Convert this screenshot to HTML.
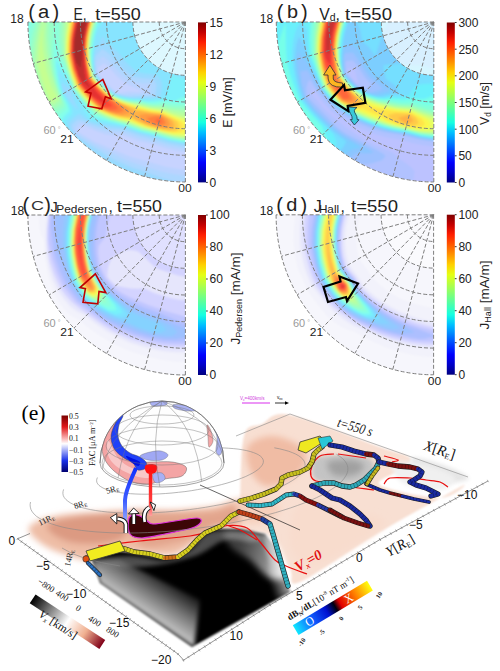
<!DOCTYPE html>
<html><head><meta charset="utf-8"><style>
html,body{margin:0;padding:0;background:#fff;}
body{width:500px;height:671px;overflow:hidden;font-family:"Liberation Sans",sans-serif;}
svg{display:block;}
</style></head><body>
<svg width="500" height="671" viewBox="0 0 500 671"><defs><linearGradient id="jetg" x1="0" y1="1" x2="0" y2="0"><stop offset="0.000" stop-color="#000080"/><stop offset="0.062" stop-color="#0000c8"/><stop offset="0.125" stop-color="#0000ff"/><stop offset="0.188" stop-color="#0040ff"/><stop offset="0.250" stop-color="#0080ff"/><stop offset="0.312" stop-color="#00c0ff"/><stop offset="0.375" stop-color="#16ffe1"/><stop offset="0.438" stop-color="#49ffad"/><stop offset="0.500" stop-color="#7dff7a"/><stop offset="0.562" stop-color="#b1ff46"/><stop offset="0.625" stop-color="#e4ff13"/><stop offset="0.688" stop-color="#ffd000"/><stop offset="0.750" stop-color="#ff9400"/><stop offset="0.812" stop-color="#ff5900"/><stop offset="0.875" stop-color="#ff1e00"/><stop offset="0.938" stop-color="#c40000"/><stop offset="1.000" stop-color="#800000"/></linearGradient><filter id="blur1" x="-5%" y="-5%" width="110%" height="110%"><feGaussianBlur stdDeviation="0.8"/></filter><filter id="bl3" x="-20%" y="-20%" width="140%" height="140%"><feGaussianBlur stdDeviation="3"/></filter><filter id="bl2" x="-20%" y="-20%" width="140%" height="140%"><feGaussianBlur stdDeviation="2"/></filter><filter id="bl6" x="-30%" y="-30%" width="160%" height="160%"><feGaussianBlur stdDeviation="6"/></filter><filter id="bl1" x="-20%" y="-20%" width="140%" height="140%"><feGaussianBlur stdDeviation="1"/></filter><linearGradient id="lftfade" x1="120" y1="602" x2="148" y2="560" gradientUnits="userSpaceOnUse"><stop offset="0" stop-color="#fff" stop-opacity="0.85"/><stop offset="0.5" stop-color="#fff" stop-opacity="0.45"/><stop offset="1" stop-color="#fff" stop-opacity="0"/></linearGradient><linearGradient id="rtfade" x1="268" y1="580" x2="292" y2="572" gradientUnits="userSpaceOnUse"><stop offset="0" stop-color="#fff" stop-opacity="0"/><stop offset="1" stop-color="#fff" stop-opacity="0.95"/></linearGradient><linearGradient id="trg" x1="240" y1="545" x2="290" y2="560" gradientUnits="userSpaceOnUse"><stop offset="0" stop-color="#fff" stop-opacity="0.25"/><stop offset="0.6" stop-color="#fff" stop-opacity="0.55"/><stop offset="1" stop-color="#fff" stop-opacity="0.9"/></linearGradient><linearGradient id="btube" x1="0" y1="468" x2="0" y2="524" gradientUnits="userSpaceOnUse"><stop offset="0" stop-color="#1030ff"/><stop offset="0.6" stop-color="#4060ff"/><stop offset="1" stop-color="#a0b0ff"/></linearGradient><linearGradient id="rtube" x1="0" y1="470" x2="0" y2="518" gradientUnits="userSpaceOnUse"><stop offset="0" stop-color="#ff1010"/><stop offset="0.7" stop-color="#ff4040"/><stop offset="1" stop-color="#ffb0b0"/></linearGradient><linearGradient id="facg" x1="0" y1="0" x2="0" y2="1"><stop offset="0" stop-color="#7a0000"/><stop offset="0.2" stop-color="#e01818"/><stop offset="0.4" stop-color="#f8b0b0"/><stop offset="0.5" stop-color="#ffffff"/><stop offset="0.6" stop-color="#b0b8f8"/><stop offset="0.8" stop-color="#1830e8"/><stop offset="1" stop-color="#000070"/></linearGradient><linearGradient id="vxg" x1="0" y1="0" x2="1" y2="0"><stop offset="0" stop-color="#000"/><stop offset="0.5" stop-color="#fff"/><stop offset="0.75" stop-color="#f0b090"/><stop offset="1" stop-color="#800018"/></linearGradient><linearGradient id="dbg" x1="0" y1="0" x2="1" y2="0"><stop offset="0" stop-color="#10e8ff"/><stop offset="0.22" stop-color="#1060ff"/><stop offset="0.42" stop-color="#0010d0"/><stop offset="0.53" stop-color="#000010"/><stop offset="0.6" stop-color="#e00000"/><stop offset="0.8" stop-color="#ff8000"/><stop offset="1" stop-color="#ffff10"/></linearGradient></defs><clipPath id="clipa"><path d="M0 0 L-157.5 0 A157.5 160.0 0 0 0 0 160.0 Z"/></clipPath>
<g transform="translate(185.4 22.0)">
<g clip-path="url(#clipa)"><g filter="url(#blur1)">
<rect x="-162.5" y="-5" width="167.5" height="170.0" fill="#cbd5ff"/>
<path d="M-160.5 -4.0 4.5 -4.0 4.5 164.0 -161.5 164.0 -161.5 -4.0Z" fill="#d5d5f3"/>
<path d="M-160.5 -4.0 4.5 -4.0 4.5 164.0 -161.5 164.0 -161.5 -4.0Z" fill="#d2d2f9"/>
<path d="M-160.5 -4.0 4.5 -4.0 4.5 164.0 -161.5 164.0 -161.5 -4.0Z" fill="#d0d0ff"/>
<path d="M-160.5 -4.0 4.5 -4.0 4.5 164.0 -161.5 164.0 -161.5 -4.0Z" fill="#ced2ff"/>
<path d="M-160.5 -4.0 4.5 -4.0 4.5 164.0 -161.5 164.0 -161.5 -4.0Z" fill="#c7d3ff"/>
<path d="M-160.5 -4.0 4.5 -4.0 4.5 129.8 -2.5 129.7 -18.5 126.7 -32.5 122.1 -47.5 118.8 -63.5 112.7 -71.5 113.6 -79.5 112.4 -89.5 108.9 -102.5 102.7 -103.4 103.0 -108.4 108.0 -107.5 110.1 -91.5 119.4 -56.5 134.2 -18.9 145.0 -5.5 147.3 4.5 147.8 4.5 164.0 -161.5 164.0 -161.5 -4.0ZM-82.4 42.0 -87.5 45.7 -87.5 51.0 -79.2 61.0 -69.5 69.8 -65.5 71.2 -56.5 69.4 -44.5 70.3 -41.3 70.0 -60.5 61.1 -68.7 54.0 -76.6 45.0 -81.5 41.3Z" fill="#bad3ff"/>
<path d="M-160.5 -4.0 4.5 -4.0 4.5 126.9 -4.5 126.4 -17.5 123.9 -31.5 119.5 -47.5 115.7 -62.5 109.9 -77.5 109.1 -83.5 108.1 -90.5 105.9 -103.5 100.4 -105.5 100.2 -106.5 100.9 -111.2 106.0 -109.5 111.0 -100.5 117.1 -85.5 125.5 -59.5 138.0 -46.5 142.8 -23.5 149.8 -9.5 152.6 -0.5 153.7 4.5 153.7 4.5 164.0 -161.5 164.0 -161.5 -4.0ZM-83.7 35.0 -89.0 40.0 -89.2 44.0 -88.5 52.0 -79.8 62.0 -70.5 70.3 -67.5 71.5 -60.5 73.2 -50.5 72.4 -36.5 72.5 -35.1 72.0 -34.6 63.0 -34.7 62.0 -35.5 61.1 -40.5 61.4 -45.5 61.0 -56.9 58.0 -65.2 51.0 -77.5 37.9 -82.5 34.2 -83.5 34.8Z" fill="#add7ff"/>
<path d="M-160.5 -4.0 4.5 -4.0 4.5 124.2 -4.5 123.7 -17.5 121.2 -30.5 117.1 -46.5 113.2 -61.5 107.6 -74.5 106.6 -86.5 104.6 -93.5 102.3 -104.5 97.5 -108.5 97.7 -113.5 102.6 -114.0 104.0 -112.6 109.0 -110.2 113.0 -96.5 122.4 -71.5 137.5 -53.5 145.5 -39.5 149.9 -22.5 156.3 -0.7 163.0 0.5 164.0 -161.5 164.0 -161.5 -4.0ZM-84.4 28.0 -89.5 33.4 -90.3 35.0 -90.4 43.0 -89.7 52.0 -84.2 59.0 -74.9 68.0 -69.5 71.9 -55.5 75.0 -30.5 73.8 -30.0 73.0 -28.9 63.0 -30.1 60.0 -32.1 57.0 -44.4 56.0 -53.5 54.1 -61.5 47.2 -75.5 32.4 -79.5 29.2 -83.5 27.0Z" fill="#9adaff"/>
<path d="M-160.5 -4.0 4.5 -4.0 4.5 121.8 -2.5 121.6 -17.5 118.7 -28.5 115.0 -46.5 110.7 -60.5 105.4 -76.5 103.7 -90.5 101.1 -96.5 99.0 -104.5 92.6 -106.5 92.1 -110.5 94.5 -116.8 101.0 -115.9 107.0 -112.1 114.0 -101.7 122.0 -93.3 130.0 -84.3 136.0 -63.5 146.6 -41.0 155.0 -43.3 164.0 -161.5 164.0 -161.5 -4.0ZM-82.7 14.0 -87.1 24.0 -90.5 27.8 -91.5 37.0 -90.6 53.0 -83.5 61.4 -71.5 72.0 -63.5 74.4 -51.5 76.4 -33.5 76.1 -25.2 75.0 -23.0 64.0 -24.1 59.0 -26.8 55.0 -29.5 52.7 -41.5 51.5 -47.8 50.0 -49.8 49.0 -59.5 40.3 -68.3 29.0 -79.5 21.1 -82.5 13.5ZM-123.8 61.0 -123.8 63.0 -121.5 71.3 -114.5 80.6 -107.5 87.9 -107.2 87.0 -110.5 81.0 -112.4 76.0 -114.5 66.6 -119.5 64.1 -123.5 60.5Z" fill="#87e4ff"/>
<path d="M-160.5 -4.0 -82.6 -4.0 -82.7 0.0 -88.5 9.3 -90.5 15.6 -92.4 33.0 -92.4 47.0 -91.0 53.0 -89.5 55.3 -81.5 64.3 -71.5 73.0 -61.5 75.7 -50.5 77.3 -35.5 78.0 -23.5 76.6 -21.0 76.0 -19.7 75.0 -15.6 61.0 -15.5 59.0 -14.8 58.0 -14.5 55.0 -13.6 54.0 -13.5 52.0 -12.5 53.0 -9.5 54.0 -8.5 55.0 -6.5 55.0 -5.5 56.0 -2.5 56.0 -1.5 57.0 4.5 57.0 4.5 120.7 -2.5 120.5 -15.5 118.1 -29.5 113.8 -45.5 109.9 -59.5 104.6 -70.5 102.0 -85.5 99.4 -95.5 96.8 -102.4 87.0 -106.6 77.0 -113.7 66.0 -116.5 60.0 -121.5 55.9 -126.5 49.1 -127.0 52.0 -126.4 56.0 -122.7 71.0 -115.3 83.0 -113.1 88.0 -113.5 92.0 -119.4 98.0 -120.0 101.0 -119.3 106.0 -116.4 112.0 -116.8 115.0 -116.4 118.0 -110.5 125.0 -100.5 133.1 -123.9 164.0 -161.5 164.0 -161.5 -4.0ZM-42.5 -1.0 -41.5 -1.0 -40.5 0.0 -41.5 1.0 -42.5 1.0 -43.5 0.0ZM-51.5 0.0 -49.5 0.0 -48.5 1.0 -49.5 2.0 -50.5 1.5 -51.5 2.0 -52.5 1.0ZM-43.5 0.0 -42.5 1.0 -43.5 2.0 -44.5 1.0ZM-44.5 1.0 -43.5 2.0 -44.5 3.0 -45.0 2.0ZM-47.5 2.0 -46.5 3.0 -47.5 4.0 -48.0 3.0ZM-52.5 3.0 -51.5 4.0 -52.5 5.0 -53.5 4.0ZM-42.5 3.0 -41.5 4.0 -42.5 5.0 -43.0 4.0ZM-53.5 4.0 -52.5 5.0 -53.5 6.0 -54.5 5.0ZM-44.5 4.0 -42.5 5.0 -43.5 6.0 -44.5 6.0 -45.5 5.0ZM-49.5 5.0 -49.0 6.0 -49.5 7.0 -50.5 6.0ZM-48.5 8.0 -46.5 10.0 -46.5 11.0 -47.5 12.0 -49.5 12.0 -51.5 10.0 -50.5 9.0 -49.5 10.0 -48.5 10.0 -49.5 9.0ZM-45.5 8.0 -45.0 9.0 -45.5 9.5 -46.5 9.0ZM-55.5 11.0 -54.5 12.0 -55.5 13.0 -56.5 12.0ZM-52.5 11.0 -50.5 13.0 -51.5 14.0 -53.5 12.0ZM-59.5 13.0 -58.5 14.0 -59.5 14.5 -59.5 14.0ZM-60.5 15.0 -59.5 15.5 -59.5 16.0 -60.5 16.0ZM-8.5 37.0 -7.5 38.0 -8.5 39.0 -9.5 38.0ZM-9.5 41.0 -8.5 42.0 -9.5 43.0 -10.5 42.0ZM-7.5 41.0 -6.5 42.0 -7.5 43.0 -8.5 42.0ZM-5.5 41.0 -4.5 42.0 -5.5 43.0 -6.5 42.0ZM-11.5 44.0 -10.5 43.0 -9.5 44.0 -11.5 45.0 -11.5 44.0ZM-8.5 44.0 -7.5 45.0 -8.5 46.0 -9.0 45.0ZM-6.5 45.0 -5.5 46.0 -6.5 47.0 -7.5 46.0ZM-3.5 45.0 -2.5 46.0 -3.5 47.0 -4.5 46.0ZM-9.5 46.5 -8.5 47.0 -9.5 48.0 -10.5 47.0ZM-4.5 46.0 -3.5 47.0 -4.5 48.0 -5.0 47.0ZM-9.5 49.0 -8.5 50.0 -9.5 51.0 -10.5 50.0Z" fill="#7bf1fb"/>
<path d="M-158.5 -4.0 -87.1 -4.0 -87.2 0.0 -89.8 8.0 -91.6 16.0 -93.4 32.0 -93.6 43.0 -91.0 54.0 -82.5 63.9 -73.5 72.1 -67.7 75.0 -62.5 76.4 -53.5 77.9 -44.5 78.5 -37.5 79.9 -28.5 79.4 -20.5 77.9 -11.5 79.2 -9.9 79.0 -7.1 77.0 -3.5 75.5 -0.5 74.7 4.5 74.5 4.5 119.9 -4.5 119.4 -17.5 116.8 -29.5 112.9 -45.5 109.1 -59.5 103.8 -92.5 94.7 -93.5 94.0 -99.7 84.0 -112.5 66.8 -118.5 53.1 -124.3 46.0 -128.5 37.5 -129.3 39.0 -129.2 45.0 -126.6 61.0 -123.4 72.0 -117.5 83.0 -116.0 89.0 -121.8 95.0 -123.1 97.0 -124.2 100.0 -124.0 104.0 -124.5 104.8 -127.5 105.2 -130.5 104.8 -136.5 101.6 -141.5 97.0 -150.5 87.0 -150.5 85.0 -152.5 82.0 -152.5 80.0 -153.5 79.0 -153.5 77.0 -154.5 76.0 -154.5 74.0 -155.5 73.0 -155.5 71.0 -156.5 70.0 -156.5 68.0 -157.5 67.0 -157.5 64.0 -158.5 63.0 -158.5 60.0 -159.5 59.0 -159.5 55.0 -160.5 54.0 -160.5 49.0 -161.5 48.0 -161.5 10.0 -160.5 9.0 -160.5 3.0 -159.5 2.0 -159.5 -4.0Z" fill="#84ffeb"/>
<path d="M-153.5 -4.0 -88.2 -4.0 -88.3 0.0 -90.8 8.0 -92.6 16.0 -94.5 33.0 -94.6 38.0 -93.9 43.0 -91.4 54.0 -83.5 63.3 -74.2 72.0 -71.2 74.0 -63.2 77.0 -55.5 78.5 -45.5 79.3 -34.5 81.4 -29.5 81.4 -21.5 80.1 -8.5 81.8 4.5 81.3 4.5 119.1 -0.5 119.1 -11.5 117.4 -20.5 115.1 -29.5 112.1 -41.5 109.5 -50.5 106.6 -58.5 103.3 -74.5 99.0 -90.5 92.6 -102.5 79.3 -112.3 66.0 -119.5 47.4 -123.7 41.0 -126.6 35.0 -128.5 21.8 -129.5 19.7 -130.7 27.0 -131.2 35.0 -129.9 51.0 -125.8 68.0 -124.0 73.0 -120.1 81.0 -118.6 86.0 -118.8 87.0 -124.2 92.0 -130.5 96.4 -134.5 95.2 -139.5 92.0 -146.0 86.0 -149.0 79.0 -154.6 62.0 -158.5 44.0 -158.8 33.0 -158.2 22.0 -156.8 11.0 -154.3 0.0 -154.3 -4.0Z" fill="#8cffdb"/>
<path d="M-149.5 -4.0 -133.5 -4.0 -133.5 0.0 -130.5 0.0 -130.2 1.0 -132.0 11.0 -133.0 22.0 -133.2 33.0 -132.6 42.0 -131.1 52.0 -128.7 62.0 -125.5 72.0 -121.1 83.0 -121.5 84.4 -126.5 89.0 -128.5 89.7 -132.5 89.9 -135.5 89.1 -142.9 84.0 -149.2 69.0 -154.0 52.0 -155.9 42.0 -155.5 28.1 -153.5 13.9 -149.7 0.0 -149.6 -4.0ZM-125.5 -4.0 -89.2 -4.0 -89.3 0.0 -91.8 8.0 -93.6 16.0 -95.3 30.0 -94.8 39.0 -93.4 48.0 -91.8 54.0 -89.5 57.0 -81.4 66.0 -72.5 73.7 -65.5 76.7 -57.5 79.0 -45.5 80.1 -35.5 82.3 -27.5 82.9 -21.5 82.2 -14.5 83.7 -7.5 84.4 4.5 84.1 4.5 118.3 -0.5 118.3 -11.5 116.6 -20.5 114.3 -29.5 111.3 -42.5 108.3 -58.5 102.5 -75.5 97.8 -90.5 91.1 -101.5 79.4 -111.6 66.0 -116.2 55.0 -120.5 41.3 -124.2 34.0 -126.2 18.0 -126.5 -4.0Z" fill="#98ffc8"/>
<path d="M-146.5 -4.0 -136.4 -4.0 -136.9 15.0 -134.2 43.0 -130.2 61.0 -123.4 80.0 -123.5 81.2 -129.5 86.2 -135.5 85.1 -140.3 82.0 -147.8 63.0 -152.8 44.0 -153.1 37.0 -152.1 25.0 -149.9 12.0 -147.0 0.0 -146.9 -4.0ZM-122.5 -4.0 -90.2 -4.0 -90.3 0.0 -93.5 10.6 -95.5 22.2 -95.8 31.0 -94.9 41.0 -92.2 54.0 -86.6 61.0 -80.5 67.3 -72.5 74.1 -64.5 77.4 -57.5 79.5 -45.9 81.0 -33.5 83.7 -22.5 84.0 -11.5 86.5 -4.5 87.0 4.5 86.8 4.5 117.5 -0.5 117.5 -11.5 115.8 -20.5 113.5 -29.5 110.4 -42.5 107.5 -57.6 102.0 -75.5 96.9 -86.5 92.3 -90.5 89.8 -100.5 79.4 -109.5 68.0 -111.5 64.9 -116.2 53.0 -122.1 32.0 -123.7 14.0 -123.3 -4.0Z" fill="#a5ffb7"/>
<path d="M-143.5 -4.0 -139.1 -4.0 -139.9 14.0 -138.7 29.0 -133.7 53.0 -125.5 78.0 -131.5 83.1 -137.4 81.0 -138.6 79.0 -145.7 60.0 -150.4 41.0 -148.9 22.0 -147.1 11.0 -144.4 0.0 -144.3 -4.0ZM-120.5 -4.0 -91.1 -4.0 -91.2 0.0 -93.5 7.3 -95.8 20.0 -96.2 31.0 -95.3 41.0 -92.5 54.2 -87.5 60.5 -81.4 67.0 -72.5 74.5 -58.5 79.8 -46.5 81.7 -34.5 84.7 -22.5 85.4 -15.5 87.8 -8.5 89.3 -3.5 89.8 4.5 89.6 4.5 116.6 -0.5 116.7 -12.5 114.8 -28.5 109.9 -43.5 106.5 -57.5 101.2 -67.5 98.7 -78.5 94.8 -88.5 90.3 -92.5 86.7 -102.5 76.0 -110.5 65.5 -116.8 49.0 -121.0 32.0 -121.3 15.0 -120.7 -4.0Z" fill="#b6ffa3"/>
<path d="M-117.5 -4.0 -91.7 -4.0 -91.8 0.0 -94.6 10.0 -96.2 21.0 -96.6 30.0 -95.7 41.0 -94.2 49.0 -92.5 54.9 -81.9 67.0 -73.5 74.3 -60.5 79.7 -53.5 81.5 -46.5 82.6 -33.5 86.0 -22.5 86.9 -13.5 90.4 -1.3 94.0 4.5 94.1 4.5 115.6 -2.5 115.5 -12.5 114.0 -28.5 109.3 -43.5 105.7 -57.5 100.4 -68.5 97.6 -79.5 93.5 -87.5 89.8 -93.5 84.5 -102.5 74.9 -110.1 65.0 -113.8 56.0 -117.3 45.0 -120.1 33.0 -120.4 27.0 -120.1 15.0 -118.4 1.0 -118.3 -4.0ZM-142.5 2.8 -142.5 6.8 -142.6 3.0ZM-143.5 6.9 -143.0 7.0 -142.8 8.0 -142.9 20.0 -142.2 29.0 -138.8 49.0 -134.2 64.0 -131.5 69.7 -128.0 75.0 -133.5 80.0 -135.5 79.0 -140.7 66.0 -144.7 53.0 -147.4 40.0 -146.3 23.0 -143.5 7.0Z" fill="#c5ff91"/>
<path d="M-116.5 -4.0 -92.2 -4.0 -92.3 0.0 -95.2 11.0 -96.7 22.0 -96.9 31.0 -96.0 41.0 -92.9 55.0 -82.4 67.0 -73.5 74.7 -61.5 79.8 -36.5 86.2 -22.5 88.3 -12.5 92.4 -0.5 95.9 4.5 95.9 4.5 114.6 -3.5 114.5 -13.5 113.0 -43.7 105.0 -56.5 99.9 -68.5 96.9 -80.5 92.3 -87.5 88.8 -94.5 82.5 -103.3 73.0 -110.0 64.0 -113.8 54.0 -117.1 43.0 -119.3 33.0 -119.6 25.0 -119.2 14.0 -117.2 0.0 -117.1 -4.0Z" fill="#d6ff7c"/>
<path d="M-115.5 -4.0 -92.6 -4.0 -92.7 0.0 -95.6 11.0 -97.1 22.0 -97.3 31.0 -96.4 41.0 -93.3 55.0 -82.5 67.4 -73.5 75.2 -61.5 80.3 -37.5 86.8 -23.5 88.9 -13.5 93.1 -0.5 97.5 4.5 97.6 4.5 113.3 -4.5 113.4 -13.5 112.3 -41.6 105.0 -56.5 99.0 -67.5 96.5 -79.5 92.1 -87.5 88.1 -94.2 82.0 -102.5 73.0 -109.4 64.0 -113.2 54.0 -116.4 43.0 -118.7 32.0 -118.8 25.0 -118.3 14.0 -116.2 0.0 -116.2 -4.0Z" fill="#e7ff68"/>
<path d="M-114.5 -4.0 -93.1 -4.0 -93.2 0.0 -96.0 11.0 -97.5 22.0 -97.7 31.0 -96.8 41.0 -93.7 55.0 -88.1 62.0 -82.4 68.0 -73.5 75.6 -62.5 80.5 -39.5 87.1 -23.5 89.7 -0.5 99.6 4.5 99.8 4.5 111.2 -10.5 112.0 -19.5 110.3 -39.5 105.0 -48.0 102.0 -55.5 98.5 -67.5 95.9 -78.5 92.0 -86.5 88.2 -93.4 82.0 -101.5 73.4 -108.8 64.0 -111.9 56.0 -115.0 46.0 -117.7 33.0 -118.0 27.0 -117.5 15.0 -115.3 0.0 -115.2 -4.0Z" fill="#faf851"/>
<path d="M-113.5 -4.0 -93.5 -4.0 -93.6 0.0 -96.2 10.0 -97.8 21.0 -98.1 30.0 -97.3 40.0 -94.2 55.0 -85.0 66.0 -74.5 75.5 -65.5 79.9 -56.5 83.3 -43.5 87.0 -33.5 89.2 -23.5 90.6 -3.8 100.0 -2.9 101.0 -1.9 105.0 -3.6 110.0 -12.5 110.5 -21.5 109.2 -40.6 104.0 -55.5 97.3 -64.5 96.0 -72.5 93.7 -86.5 87.5 -95.7 79.0 -102.8 71.0 -108.5 63.4 -112.7 52.0 -115.8 40.0 -117.2 32.0 -117.2 22.0 -116.3 11.0 -114.3 0.0 -114.3 -4.0Z" fill="#ffe34d"/>
<path d="M-112.5 -4.0 -94.0 -4.0 -94.1 0.0 -96.6 10.0 -98.0 19.0 -98.5 27.0 -98.0 37.0 -96.7 46.0 -94.6 55.0 -86.5 65.0 -74.6 76.0 -65.5 80.5 -45.5 87.7 -34.7 90.0 -24.5 91.2 -9.0 99.0 -8.0 100.0 -6.5 104.0 -6.5 105.0 -8.5 108.3 -9.5 109.0 -14.5 109.0 -24.5 107.6 -40.5 103.0 -54.5 96.4 -65.5 94.8 -74.5 92.3 -86.3 87.0 -96.9 77.0 -103.0 70.0 -108.1 63.0 -112.1 52.0 -115.2 40.0 -116.6 32.0 -116.6 23.0 -115.8 13.0 -113.4 0.0 -113.4 -4.0Z" fill="#ffcb49"/>
<path d="M-112.5 -4.0 -94.4 -4.0 -94.5 0.0 -96.9 9.0 -98.3 18.0 -98.9 27.0 -98.5 36.0 -97.1 46.0 -95.0 55.0 -88.5 63.5 -82.5 69.7 -75.4 76.0 -66.5 80.7 -52.1 87.0 -50.5 89.3 -45.5 88.9 -34.5 91.1 -24.5 92.1 -13.7 98.0 -11.9 101.0 -10.9 104.0 -13.7 107.0 -16.5 107.6 -21.5 107.1 -36.5 103.3 -49.1 98.0 -50.6 97.0 -53.5 93.7 -56.5 94.9 -61.5 94.5 -70.5 92.7 -78.5 90.1 -85.5 86.9 -98.5 74.4 -107.6 63.0 -112.2 50.0 -115.3 37.0 -116.1 31.0 -115.9 21.0 -114.8 10.0 -112.8 0.0 -112.7 -4.0Z" fill="#ffb145"/>
<path d="M-111.5 -4.0 -94.9 -4.0 -95.0 0.0 -98.4 15.0 -99.4 27.0 -98.2 42.0 -95.0 56.0 -86.5 66.3 -76.2 76.0 -58.9 85.0 -55.8 90.0 -56.5 91.0 -63.5 93.1 -74.5 90.5 -84.5 86.8 -95.5 76.9 -106.9 63.0 -112.2 48.0 -115.6 31.0 -115.1 17.0 -112.1 0.0 -112.1 -4.0ZM-38.5 91.9 -24.5 93.0 -18.0 97.0 -15.4 102.0 -15.5 103.0 -18.5 105.3 -20.5 106.1 -29.5 104.4 -39.8 101.0 -42.5 99.1 -46.8 94.0 -45.5 93.1 -39.3 92.0Z" fill="#ff9a42"/>
<path d="M-110.5 -4.0 -95.4 -4.0 -95.5 0.0 -98.8 15.0 -99.8 27.0 -98.7 42.0 -95.5 56.0 -88.3 65.0 -79.5 73.8 -75.5 77.1 -65.3 83.0 -61.6 89.0 -68.5 91.0 -75.5 89.3 -84.5 85.9 -96.5 74.7 -106.5 62.3 -111.7 48.0 -115.1 31.0 -114.5 17.0 -111.5 0.0 -111.4 -4.0ZM-29.5 94.0 -25.5 93.9 -23.2 95.0 -19.6 101.0 -20.4 102.0 -25.5 104.1 -30.8 103.0 -36.2 99.0 -38.8 96.0 -29.7 94.0Z" fill="#ff7f3e"/>
<path d="M-110.5 -4.0 -95.9 -4.0 -95.9 0.0 -99.3 15.0 -100.3 27.0 -99.2 41.0 -96.0 56.0 -89.8 64.0 -84.5 69.6 -77.5 76.2 -72.0 80.0 -67.6 86.0 -67.8 87.0 -73.5 88.3 -75.5 88.2 -84.1 85.0 -95.5 74.6 -105.9 62.0 -111.5 46.2 -114.6 31.0 -114.0 17.0 -110.9 0.0 -110.8 -4.0ZM-26.5 96.9 -25.5 96.7 -23.8 100.0 -26.5 101.2 -30.7 98.0 -27.0 97.0Z" fill="#ff653a"/>
<path d="M-109.5 -4.0 -96.3 -4.0 -96.4 0.0 -99.7 15.0 -100.7 27.0 -99.7 41.0 -97.1 54.0 -96.1 57.0 -93.1 61.0 -86.4 69.0 -76.6 79.0 -73.1 84.0 -73.5 84.5 -79.5 85.4 -83.5 84.3 -95.5 73.5 -101.5 66.7 -105.6 61.0 -110.8 46.0 -114.0 31.0 -113.5 17.8 -112.5 10.4 -110.2 0.0 -110.1 -4.0Z" fill="#ff4836"/>
<path d="M-108.5 -4.0 -96.8 -4.0 -96.9 0.0 -100.2 15.0 -101.2 27.0 -100.8 36.0 -97.9 57.0 -90.5 67.7 -78.9 81.0 -79.5 81.6 -81.5 81.2 -87.5 77.9 -92.5 74.8 -95.5 72.2 -104.5 61.6 -107.1 55.0 -110.8 43.0 -113.2 31.0 -112.5 16.3 -109.4 0.0 -109.3 -4.0Z" fill="#e53232"/>
<path d="M-107.5 -4.0 -97.3 -4.0 -97.4 0.0 -100.0 10.0 -101.1 17.0 -101.8 27.0 -101.6 43.0 -101.1 50.0 -99.7 58.0 -95.3 65.0 -95.5 65.7 -102.3 60.0 -106.5 54.4 -109.5 44.8 -111.7 35.0 -112.4 30.0 -112.0 20.0 -110.7 10.0 -108.5 0.0 -108.4 -4.0Z" fill="#c32f2f"/>
<path d="M-107.5 -4.0 -98.9 -4.0 -99.0 0.0 -101.2 9.0 -102.6 18.0 -104.5 46.4 -109.5 40.0 -111.6 30.0 -110.8 16.0 -107.6 0.0 -107.6 -4.0Z" fill="#a42b2b"/>
</g>
<path d="M0 0 L-52.5 0 A52.5 53.3 0 0 0 0 53.3 Z" fill="#fff" fill-opacity="0.72"/>
</g>
<path d="M-26.2 0 A26.2 26.7 0 0 0 0 26.7M-52.5 0 A52.5 53.3 0 0 0 0 53.3M-78.8 0 A78.8 80.0 0 0 0 0 80.0M-105.0 0 A105.0 106.7 0 0 0 0 106.7M-131.2 0 A131.2 133.3 0 0 0 0 133.3M-157.5 0 A157.5 160.0 0 0 0 0 160.0M0 0 L-157.5 0.0M0 0 L-152.1 41.4M0 0 L-136.4 80.0M0 0 L-111.4 113.1M0 0 L-78.8 138.6M0 0 L-40.8 154.5M0 0 L-0.0 160.0" fill="none" stroke="#7e7e7e" stroke-width="1" stroke-dasharray="4 2"/>
</g>
<rect x="198.0" y="22.4" width="8.0" height="160.0" fill="url(#jetg)"/>
<line x1="206.0" y1="182.4" x2="207.8" y2="182.4" stroke="#000" stroke-width="0.8"/>
<text x="209.6" y="186.7" font-size="12.0" font-family='"Liberation Sans", sans-serif' fill="#222">0</text>
<line x1="206.0" y1="150.4" x2="207.8" y2="150.4" stroke="#000" stroke-width="0.8"/>
<text x="209.6" y="154.7" font-size="12.0" font-family='"Liberation Sans", sans-serif' fill="#222">3</text>
<line x1="206.0" y1="118.4" x2="207.8" y2="118.4" stroke="#000" stroke-width="0.8"/>
<text x="209.6" y="122.7" font-size="12.0" font-family='"Liberation Sans", sans-serif' fill="#222">6</text>
<line x1="206.0" y1="86.4" x2="207.8" y2="86.4" stroke="#000" stroke-width="0.8"/>
<text x="209.6" y="90.7" font-size="12.0" font-family='"Liberation Sans", sans-serif' fill="#222">9</text>
<line x1="206.0" y1="54.4" x2="207.8" y2="54.4" stroke="#000" stroke-width="0.8"/>
<text x="209.6" y="58.7" font-size="12.0" font-family='"Liberation Sans", sans-serif' fill="#222">12</text>
<line x1="206.0" y1="22.4" x2="207.8" y2="22.4" stroke="#000" stroke-width="0.8"/>
<text x="209.6" y="26.7" font-size="12.0" font-family='"Liberation Sans", sans-serif' fill="#222">15</text>
<text transform="translate(232.3 102.6) rotate(-90)" text-anchor="middle" font-size="12.8" font-family='"Liberation Sans", sans-serif' fill="#222" textLength="50.5" lengthAdjust="spacingAndGlyphs">E [mV/m]</text>
<text x="10.3" y="23.0" font-size="12.0" font-family='"Liberation Sans", sans-serif' fill="#222" textLength="13.4" lengthAdjust="spacingAndGlyphs">18</text><text x="43.4" y="134.3" font-size="10.0" font-family='"Liberation Sans", sans-serif' fill="#999" textLength="12.2" lengthAdjust="spacingAndGlyphs">60</text><text x="57.8" y="131.5" font-size="7.0" font-family='"Liberation Sans", sans-serif' fill="#aaa">&#176;</text><text x="60.3" y="142.6" font-size="11.5" font-family='"Liberation Sans", sans-serif' fill="#222" textLength="13.4" lengthAdjust="spacingAndGlyphs">21</text><text x="178.3" y="192.2" font-size="11.5" font-family='"Liberation Sans", sans-serif' fill="#222" textLength="13.4" lengthAdjust="spacingAndGlyphs">00</text>
<text x="32.2" y="18.6" font-size="19.5" font-family='"Liberation Mono", monospace' fill="#222" text-anchor="middle">(</text>
<text x="37.6" y="18.2" font-size="17.5" font-family='"Liberation Mono", monospace' fill="#222" textLength="12.5" lengthAdjust="spacingAndGlyphs">a</text>
<text x="55.4" y="18.6" font-size="19.5" font-family='"Liberation Mono", monospace' fill="#222" text-anchor="middle">)</text>
<text x="73.6" y="19.5" font-size="15.8" font-family='"Liberation Sans", sans-serif' fill="#222" textLength="13.1" lengthAdjust="spacingAndGlyphs">E,</text>
<text x="95.3" y="19.5" font-size="15.8" font-family='"Liberation Sans", sans-serif' fill="#222" textLength="45.4" lengthAdjust="spacingAndGlyphs">t=550</text>
<path d="M102.8 79.4 L111.2 98.8 L105.4 96.8 L101.8 108.8 L88.0 106.2 L91.0 93.2 L85.6 91.8 Z" fill="none" stroke="#c00000" stroke-width="1.6" stroke-linejoin="miter"/>
<clipPath id="clipb"><path d="M0 0 L-157.5 0 A157.5 160.0 0 0 0 0 160.0 Z"/></clipPath>
<g transform="translate(433.8 22.0)">
<g clip-path="url(#clipb)"><g filter="url(#blur1)">
<rect x="-162.5" y="-5" width="167.5" height="170.0" fill="#bcc2ff"/>
<path d="M-160.5 -4.0 4.5 -4.0 4.5 164.0 -161.5 164.0 -161.5 -4.0Z" fill="#d2d2f2"/>
<path d="M-160.5 -4.0 4.5 -4.0 4.5 164.0 -161.5 164.0 -161.5 -4.0Z" fill="#cecef9"/>
<path d="M-160.5 -4.0 4.5 -4.0 4.5 164.0 -161.5 164.0 -161.5 -4.0Z" fill="#c7c7ff"/>
<path d="M-160.5 -4.0 4.5 -4.0 4.5 164.0 -161.5 164.0 -161.5 -4.0Z" fill="#bcc2ff"/>
<path d="M-160.5 -4.0 4.5 -4.0 4.5 124.4 -1.5 124.4 -11.5 123.1 -21.5 120.9 -31.5 117.9 -46.5 115.5 -57.5 112.4 -74.5 106.0 -88.5 98.7 -102.5 89.0 -111.5 79.5 -121.5 66.2 -122.0 68.0 -122.1 72.0 -111.4 85.0 -105.5 91.1 -87.5 106.1 -67.7 119.0 -41.5 130.4 -38.0 133.0 -35.5 136.2 -28.1 141.0 -21.9 146.0 -19.3 149.0 -21.3 164.0 -161.5 164.0 -161.5 -4.0ZM-86.6 47.0 -86.3 51.0 -79.5 59.0 -75.1 63.0 -79.2 47.0 -80.5 46.4 -86.5 46.6Z" fill="#b1c2ff"/>
<path d="M-160.5 -4.0 4.5 -4.0 4.5 119.4 0.5 119.6 -8.5 118.6 -18.5 116.6 -28.5 113.7 -29.5 113.0 -34.5 112.8 -49.5 110.3 -63.9 106.0 -76.0 101.0 -90.5 92.8 -103.5 83.0 -112.5 73.6 -119.2 65.0 -123.5 58.2 -124.5 57.7 -126.2 61.0 -127.2 65.0 -127.3 71.0 -126.5 74.6 -97.8 104.0 -92.5 108.5 -87.5 111.8 -56.8 128.0 -50.3 132.0 -48.1 134.0 -50.5 136.9 -52.5 138.4 -62.5 141.6 -69.5 142.4 -78.5 141.7 -80.5 142.0 -84.7 150.0 -87.5 154.0 -88.7 157.0 -91.5 161.0 -92.7 164.0 -161.5 164.0 -161.5 -4.0ZM-86.9 39.0 -88.3 40.0 -87.7 51.0 -78.0 62.0 -75.5 64.3 -69.5 67.1 -68.2 67.0 -62.3 63.0 -69.2 55.0 -76.3 44.0 -80.5 38.7 -81.5 38.4 -86.5 38.9Z" fill="#9ec1ff"/>
<path d="M-160.5 -4.0 4.5 -4.0 4.5 118.2 -0.5 118.3 -10.5 117.0 -19.5 115.1 -29.5 112.1 -46.5 109.1 -64.5 103.4 -76.5 98.2 -88.5 91.5 -99.9 83.0 -116.5 64.4 -126.5 48.3 -133.5 49.5 -132.0 61.0 -128.3 75.0 -119.5 86.0 -104.5 100.9 -92.5 111.0 -82.5 117.3 -70.0 124.0 -60.6 130.0 -61.5 130.9 -63.5 131.3 -68.5 131.4 -74.5 130.7 -78.9 132.0 -87.2 139.0 -102.8 164.0 -161.5 164.0 -161.5 -4.0ZM-85.6 31.0 -88.5 31.6 -89.5 33.0 -89.6 44.0 -88.8 52.0 -84.4 57.0 -76.2 65.0 -64.5 70.3 -62.5 70.7 -52.5 67.8 -51.5 67.1 -53.5 64.3 -64.6 55.0 -69.6 48.0 -76.5 36.4 -79.5 32.6 -81.5 30.6 -85.5 31.0Z" fill="#8bc5ff"/>
<path d="M-160.5 -4.0 4.5 -4.0 4.5 117.4 -1.5 117.3 -12.5 115.8 -29.5 111.3 -39.5 109.8 -49.5 107.4 -70.5 100.0 -80.5 95.1 -88.5 90.5 -98.5 83.4 -108.7 72.0 -113.1 66.0 -114.5 62.9 -121.1 53.0 -127.5 39.2 -131.5 36.0 -135.5 29.4 -136.7 37.0 -135.7 50.0 -133.4 63.0 -129.5 76.1 -118.5 89.5 -101.5 106.1 -92.5 113.4 -73.7 125.0 -73.5 125.8 -72.4 126.0 -77.5 126.3 -82.5 127.8 -93.5 135.8 -113.0 164.0 -161.5 164.0 -161.5 -4.0ZM-84.5 23.0 -89.5 24.1 -90.4 29.0 -90.9 38.0 -90.6 47.0 -90.3 51.0 -88.5 54.4 -76.5 65.9 -63.5 71.6 -57.5 73.0 -52.5 71.3 -44.5 69.6 -44.1 69.0 -45.1 67.0 -48.3 63.0 -60.5 53.6 -63.0 51.0 -67.7 44.0 -73.5 31.8 -76.5 26.9 -80.5 23.3 -82.5 22.2 -83.5 22.4Z" fill="#7cceff"/>
<path d="M-160.5 -4.0 -85.6 -4.0 -85.7 0.0 -89.8 15.0 -91.8 31.0 -92.2 42.0 -90.5 52.3 -85.5 59.0 -78.0 66.0 -70.5 69.8 -61.5 73.2 -56.5 74.3 -53.5 74.4 -41.5 71.9 -35.0 72.0 -36.2 68.0 -38.5 64.0 -40.6 62.0 -47.8 57.0 -50.5 45.0 -50.5 43.7 -49.6 43.0 -34.5 41.7 -19.5 43.5 -11.5 43.3 -1.5 46.9 4.5 47.0 4.5 116.5 -1.5 116.5 -12.5 115.0 -29.5 110.5 -40.5 108.8 -51.5 106.0 -65.5 101.1 -74.5 97.2 -85.5 91.5 -95.5 85.0 -98.0 83.0 -103.5 77.2 -112.3 66.0 -116.5 56.0 -121.3 48.0 -124.9 40.0 -126.7 35.0 -128.5 24.5 -134.5 14.7 -136.1 18.0 -137.7 24.0 -139.2 38.0 -138.2 48.0 -136.4 58.0 -133.8 68.0 -130.8 77.0 -121.5 88.7 -109.7 101.0 -100.5 109.5 -88.2 119.0 -87.7 120.0 -91.0 126.0 -100.5 133.0 -123.9 164.0 -161.5 164.0 -161.5 -4.0ZM-76.5 -4.0 -45.5 -4.0 -45.7 0.0 -50.2 9.0 -58.5 34.0 -65.0 25.0 -71.5 19.2 -73.6 8.0 -77.1 0.0 -77.0 -4.0Z" fill="#74dfff"/>
<path d="M-160.5 -4.0 -87.0 -4.0 -87.1 0.0 -89.6 8.0 -91.3 16.0 -93.2 33.0 -92.7 43.0 -90.7 53.0 -85.5 59.5 -78.5 66.6 -67.5 72.0 -58.5 74.9 -50.5 76.0 -42.5 74.2 -34.5 74.8 -27.5 74.3 -25.4 74.0 -24.5 73.3 -20.5 66.5 -16.5 63.3 -9.5 62.1 4.5 61.4 4.5 115.6 -2.5 115.5 -12.5 114.1 -28.5 109.9 -40.5 108.0 -51.7 105.0 -65.5 100.2 -74.5 96.3 -86.5 90.1 -97.1 83.0 -106.5 72.7 -112.5 64.0 -117.5 50.7 -122.2 41.0 -124.9 34.0 -126.0 23.0 -126.5 7.8 -129.8 3.0 -132.5 0.2 -135.9 4.0 -138.6 10.0 -140.5 18.0 -141.6 28.0 -141.8 38.0 -141.2 43.0 -139.3 54.0 -136.5 65.0 -132.0 78.0 -119.9 93.0 -100.7 112.0 -97.5 119.0 -97.3 123.0 -106.6 129.0 -135.5 164.0 -161.5 164.0 -161.5 -4.0Z" fill="#6bf0fb"/>
<path d="M-122.5 -4.0 -88.3 -4.0 -88.4 0.0 -91.6 11.0 -93.5 23.0 -93.9 36.0 -92.8 45.0 -90.5 53.9 -81.5 64.4 -78.5 67.3 -75.5 69.1 -69.8 72.0 -61.5 75.0 -55.5 76.5 -49.5 77.1 -43.5 76.5 -30.5 77.6 -20.5 76.2 -11.5 77.3 -9.3 77.0 -0.5 73.8 4.5 73.5 4.5 114.8 -2.5 114.7 -14.5 112.9 -28.5 109.0 -40.5 107.1 -51.5 104.2 -65.5 99.3 -74.5 95.3 -87.5 88.6 -97.2 82.0 -104.6 74.0 -111.4 65.0 -115.3 55.0 -119.5 42.0 -122.9 34.0 -124.1 17.0 -123.2 -4.0ZM-148.5 1.0 -148.1 3.0 -147.9 26.0 -146.8 40.0 -144.2 51.0 -140.6 62.0 -134.2 78.0 -125.7 89.0 -112.1 104.0 -106.5 117.0 -107.4 118.0 -119.1 121.0 -161.5 164.0 -161.5 44.0 -160.5 43.7 -159.5 41.5 -157.8 31.0 -155.4 21.0 -148.9 2.0Z" fill="#76ffe9"/>
<path d="M-120.5 -4.0 -89.6 -4.0 -89.6 0.0 -91.6 6.0 -93.5 15.2 -94.5 24.9 -94.5 32.7 -93.6 42.0 -90.9 54.0 -85.5 60.7 -79.5 66.9 -68.5 73.3 -62.5 75.6 -55.5 77.5 -44.5 78.3 -36.5 80.0 -30.5 80.6 -21.5 80.0 -7.5 83.0 4.5 83.1 4.5 114.0 -2.5 113.9 -13.5 112.4 -28.5 108.3 -39.5 106.6 -50.5 103.7 -65.5 98.4 -72.5 95.4 -86.5 88.4 -96.5 81.9 -103.8 74.0 -110.7 65.0 -117.4 46.0 -121.1 33.0 -121.7 27.0 -122.0 14.0 -121.0 -4.0ZM-139.5 83.6 -130.5 93.0 -120.5 102.0 -118.1 108.0 -117.9 109.0 -118.5 109.6 -130.5 110.8 -136.0 97.0 -140.1 84.0Z" fill="#83ffd9"/>
<path d="M-118.5 -4.0 -90.1 -4.0 -90.2 0.0 -93.0 10.0 -94.7 22.0 -94.9 32.0 -94.0 42.0 -91.3 54.0 -85.7 61.0 -80.0 67.0 -69.5 73.4 -57.5 78.1 -33.5 81.9 -21.5 82.7 -6.5 87.2 -0.5 88.3 4.5 88.3 4.5 113.2 -3.5 113.1 -13.5 111.7 -28.5 107.7 -38.5 106.2 -49.5 103.3 -64.5 98.1 -73.5 94.2 -86.5 87.7 -96.5 81.0 -103.5 73.3 -110.0 65.0 -113.9 55.0 -117.2 44.0 -119.7 33.0 -120.1 28.0 -119.9 12.0 -118.7 -4.0Z" fill="#93ffc6"/>
<path d="M-116.5 -3.6 -116.5 -4.0 -90.6 -4.0 -90.7 0.0 -93.6 11.0 -95.2 22.0 -95.4 31.0 -94.5 41.0 -91.7 54.0 -86.5 60.6 -80.5 67.0 -75.5 70.6 -68.5 74.5 -55.5 79.5 -35.5 83.1 -22.5 83.9 -5.5 89.5 -0.5 90.7 4.5 90.7 4.5 112.5 -3.5 112.4 -13.5 111.2 -28.5 107.3 -38.5 105.7 -48.7 103.0 -71.5 94.4 -84.5 88.1 -95.6 81.0 -102.1 74.0 -109.8 64.0 -113.5 54.0 -116.6 43.0 -118.8 33.0 -119.1 25.0 -118.7 14.0 -116.5 -3.0Z" fill="#a2ffb4"/>
<path d="M-115.5 -4.0 -91.0 -4.0 -91.1 0.0 -94.1 11.0 -95.6 22.0 -95.8 31.0 -94.9 41.0 -92.1 54.0 -86.5 61.2 -80.5 67.6 -68.5 75.1 -56.5 79.9 -39.0 84.0 -31.5 84.9 -22.5 85.2 -7.3 91.0 -0.5 92.7 4.5 92.7 4.5 111.8 -3.5 111.8 -13.5 110.6 -47.5 102.8 -65.5 96.4 -79.5 90.1 -88.5 85.3 -95.5 80.5 -103.1 72.0 -109.2 64.0 -113.1 53.0 -116.1 42.0 -118.1 32.0 -118.3 24.0 -117.7 14.0 -115.6 0.0 -115.5 -4.0Z" fill="#b3ffa0"/>
<path d="M-114.5 -4.0 -91.5 -4.0 -91.6 0.0 -94.5 11.0 -96.0 22.0 -96.2 31.0 -95.1 42.0 -92.5 54.0 -87.2 61.0 -80.6 68.0 -67.5 76.3 -56.5 80.7 -37.5 85.2 -22.5 86.6 -13.5 90.3 -3.5 93.4 0.5 94.4 4.5 94.3 4.5 111.1 -4.5 111.0 -13.5 110.0 -46.5 102.5 -64.7 96.0 -79.5 89.5 -88.5 84.7 -95.4 80.0 -102.5 72.0 -108.5 64.0 -112.1 54.0 -115.3 42.0 -117.3 32.0 -117.4 24.0 -116.9 14.0 -114.7 0.0 -114.6 -4.0Z" fill="#c3ff8d"/>
<path d="M-113.5 -4.0 -91.9 -4.0 -92.0 0.0 -94.9 11.0 -96.5 22.0 -96.6 31.0 -95.7 41.0 -92.9 54.0 -87.7 61.0 -81.2 68.0 -75.5 72.2 -66.5 77.7 -57.5 81.2 -38.5 85.9 -23.5 87.4 -0.5 96.1 4.5 96.2 4.5 109.5 -8.5 110.0 -14.5 109.3 -45.5 102.2 -65.5 95.0 -80.5 88.4 -88.5 84.2 -94.8 80.0 -101.9 72.0 -107.9 64.0 -110.6 57.0 -114.0 45.0 -116.4 32.0 -116.6 25.0 -116.0 14.0 -113.7 0.0 -113.6 -4.0Z" fill="#d5ff78"/>
<path d="M-112.5 -4.0 -92.4 -4.0 -92.5 0.0 -95.4 11.0 -96.9 22.0 -97.0 31.0 -96.1 41.0 -92.9 55.0 -88.3 61.0 -81.5 68.3 -66.5 78.8 -61.5 81.0 -40.5 86.5 -31.5 87.8 -23.5 88.3 0.5 98.7 4.5 98.7 4.5 107.6 -6.5 108.6 -14.5 108.4 -18.5 108.0 -27.5 105.6 -40.8 103.0 -64.5 94.1 -74.5 89.6 -81.5 87.4 -94.2 80.0 -101.3 72.0 -108.0 63.0 -111.0 54.0 -113.6 44.0 -115.6 32.0 -115.8 26.0 -115.2 15.0 -112.8 0.0 -112.7 -4.0Z" fill="#e6ff63"/>
<path d="M-111.5 -4.0 -92.8 -4.0 -92.9 0.0 -95.6 10.0 -97.2 21.0 -97.5 29.0 -96.8 39.0 -93.5 55.0 -84.4 66.0 -78.5 71.4 -66.5 80.3 -64.5 81.2 -55.5 84.3 -43.5 87.1 -33.5 88.6 -23.5 89.2 -7.6 97.0 -6.0 98.0 -3.0 103.0 -6.5 106.8 -11.5 107.2 -20.5 106.5 -40.4 102.0 -63.9 93.0 -73.5 88.7 -83.0 86.0 -89.5 82.6 -94.5 79.0 -101.5 71.0 -107.4 63.0 -110.8 53.0 -113.3 43.0 -115.0 32.0 -115.1 23.0 -114.0 11.0 -111.9 0.0 -111.9 -4.0Z" fill="#faf84d"/>
<path d="M-110.5 -4.0 -93.3 -4.0 -93.4 0.0 -96.0 10.0 -97.7 21.0 -98.0 29.0 -97.2 39.0 -94.0 55.0 -84.5 66.7 -81.5 69.7 -69.8 79.0 -68.8 80.0 -67.7 83.0 -60.5 85.5 -54.5 86.8 -36.5 89.6 -23.5 90.4 -12.1 97.0 -8.9 102.0 -9.5 102.7 -13.5 105.6 -16.5 105.7 -24.5 104.7 -36.5 102.0 -47.8 98.0 -53.5 93.4 -62.5 90.4 -70.5 86.8 -75.5 87.2 -83.5 84.9 -89.5 82.1 -94.0 79.0 -101.0 71.0 -106.9 63.0 -110.0 54.0 -112.8 43.0 -114.5 32.0 -114.6 24.0 -113.7 13.0 -111.3 0.0 -111.2 -4.0Z" fill="#ffe34a"/>
<path d="M-110.5 -4.0 -93.7 -4.0 -93.8 0.0 -97.4 15.0 -98.4 26.0 -97.7 39.0 -95.3 52.0 -94.0 56.0 -87.5 64.2 -82.0 70.0 -72.5 78.0 -71.5 83.0 -72.2 84.0 -78.5 85.3 -90.5 80.9 -93.3 79.0 -98.5 73.3 -106.8 62.0 -111.4 47.0 -114.1 31.0 -113.6 17.0 -110.7 0.0 -110.6 -4.0ZM-36.5 91.0 -23.5 91.9 -18.4 95.0 -14.8 101.0 -20.5 104.1 -30.5 102.4 -38.5 100.0 -45.9 94.0 -45.9 93.0 -37.5 91.0Z" fill="#ffca47"/>
<path d="M-109.5 -4.0 -94.2 -4.0 -94.3 0.0 -97.8 15.0 -98.9 26.0 -98.4 37.0 -96.5 49.0 -95.0 55.0 -92.5 58.8 -84.7 68.0 -76.2 76.0 -74.8 81.0 -74.8 82.0 -75.5 82.3 -80.5 83.5 -82.5 83.2 -92.5 78.9 -101.0 69.0 -106.5 60.8 -110.9 47.0 -113.6 31.0 -113.1 17.0 -110.1 0.0 -110.0 -4.0ZM-24.5 92.9 -20.3 99.0 -26.5 101.9 -29.5 100.5 -36.0 96.0 -25.5 93.0Z" fill="#ffb144"/>
<path d="M-108.5 -4.0 -94.6 -4.0 -94.7 0.0 -98.2 15.0 -99.3 26.0 -98.6 39.0 -96.8 50.0 -95.2 56.0 -93.9 58.0 -87.2 66.0 -79.5 74.0 -78.0 79.0 -77.9 80.0 -78.5 80.4 -84.5 81.3 -92.2 78.0 -98.2 71.0 -104.1 63.0 -107.5 55.4 -111.5 41.6 -113.1 31.0 -112.5 17.0 -109.5 0.0 -109.5 -4.0Z" fill="#ff9a41"/>
<path d="M-108.5 -4.0 -95.1 -4.0 -95.2 0.0 -98.2 12.0 -99.6 24.0 -99.6 33.0 -98.1 47.0 -96.2 57.0 -89.4 65.0 -83.4 71.0 -81.2 77.0 -81.0 78.0 -81.5 78.4 -87.5 79.2 -91.5 77.4 -97.8 70.0 -103.5 62.0 -108.0 51.0 -111.0 40.0 -112.6 30.0 -111.7 14.0 -108.9 0.0 -108.9 -4.0Z" fill="#ff7f3e"/>
<path d="M-107.5 -4.0 -95.6 -4.0 -95.7 0.0 -98.9 13.0 -100.1 23.0 -100.2 35.0 -98.6 57.0 -98.4 58.0 -94.3 63.0 -85.5 72.1 -84.2 75.0 -84.5 76.3 -90.5 77.0 -91.3 76.0 -96.8 68.0 -101.5 59.9 -105.5 55.0 -108.2 47.0 -110.8 36.0 -111.7 28.0 -111.0 15.0 -108.2 0.0 -108.2 -4.0Z" fill="#ff663b"/>
<path d="M-106.5 -4.0 -96.3 -4.0 -96.5 1.0 -99.3 11.0 -100.9 23.0 -101.6 36.0 -101.5 52.9 -107.5 45.5 -109.5 37.9 -110.8 30.0 -110.2 16.0 -107.3 0.0 -107.3 -4.0Z" fill="#ff4a38"/>
<path d="M-105.5 -4.0 -97.6 -4.0 -97.7 0.0 -100.2 9.0 -102.0 19.0 -103.5 43.2 -108.5 36.0 -109.9 30.0 -109.5 17.5 -108.2 8.0 -106.4 0.0 -106.4 -4.0Z" fill="#e63535"/>
<path d="M-104.5 -4.0 -99.1 -4.0 -99.2 0.0 -102.9 15.0 -104.5 31.6 -105.5 32.2 -107.3 29.0 -107.6 20.0 -107.1 11.0 -105.6 2.0 -105.3 -4.0Z" fill="#c43232"/>
</g>
<path d="M0 0 L-52.5 0 A52.5 53.3 0 0 0 0 53.3 Z" fill="#fff" fill-opacity="0.70"/>
</g>
<path d="M-26.2 0 A26.2 26.7 0 0 0 0 26.7M-52.5 0 A52.5 53.3 0 0 0 0 53.3M-78.8 0 A78.8 80.0 0 0 0 0 80.0M-105.0 0 A105.0 106.7 0 0 0 0 106.7M-131.2 0 A131.2 133.3 0 0 0 0 133.3M-157.5 0 A157.5 160.0 0 0 0 0 160.0M0 0 L-157.5 0.0M0 0 L-152.1 41.4M0 0 L-136.4 80.0M0 0 L-111.4 113.1M0 0 L-78.8 138.6M0 0 L-40.8 154.5M0 0 L-0.0 160.0" fill="none" stroke="#7e7e7e" stroke-width="1" stroke-dasharray="4 2"/>
</g>
<rect x="446.8" y="22.5" width="8.0" height="160.0" fill="url(#jetg)"/>
<line x1="454.8" y1="182.5" x2="456.6" y2="182.5" stroke="#000" stroke-width="0.8"/>
<text x="458.4" y="186.8" font-size="12.0" font-family='"Liberation Sans", sans-serif' fill="#222">0</text>
<line x1="454.8" y1="155.8" x2="456.6" y2="155.8" stroke="#000" stroke-width="0.8"/>
<text x="458.4" y="160.1" font-size="12.0" font-family='"Liberation Sans", sans-serif' fill="#222">50</text>
<line x1="454.8" y1="129.2" x2="456.6" y2="129.2" stroke="#000" stroke-width="0.8"/>
<text x="458.4" y="133.5" font-size="12.0" font-family='"Liberation Sans", sans-serif' fill="#222">100</text>
<line x1="454.8" y1="102.5" x2="456.6" y2="102.5" stroke="#000" stroke-width="0.8"/>
<text x="458.4" y="106.8" font-size="12.0" font-family='"Liberation Sans", sans-serif' fill="#222">150</text>
<line x1="454.8" y1="75.8" x2="456.6" y2="75.8" stroke="#000" stroke-width="0.8"/>
<text x="458.4" y="80.1" font-size="12.0" font-family='"Liberation Sans", sans-serif' fill="#222">200</text>
<line x1="454.8" y1="49.2" x2="456.6" y2="49.2" stroke="#000" stroke-width="0.8"/>
<text x="458.4" y="53.5" font-size="12.0" font-family='"Liberation Sans", sans-serif' fill="#222">250</text>
<line x1="454.8" y1="22.5" x2="456.6" y2="22.5" stroke="#000" stroke-width="0.8"/>
<text x="458.4" y="26.8" font-size="12.0" font-family='"Liberation Sans", sans-serif' fill="#222">300</text>
<text transform="translate(488.8 103.5) rotate(-90)" text-anchor="middle" font-size="13.2" font-family='"Liberation Sans", sans-serif' fill="#222" textLength="43" lengthAdjust="spacingAndGlyphs">V<tspan font-size="9" dy="2">d</tspan><tspan dy="-2"> [m/s]</tspan></text>
<text x="259.8" y="23.0" font-size="12.0" font-family='"Liberation Sans", sans-serif' fill="#222" textLength="13.4" lengthAdjust="spacingAndGlyphs">18</text><text x="292.9" y="134.3" font-size="10.0" font-family='"Liberation Sans", sans-serif' fill="#999" textLength="12.2" lengthAdjust="spacingAndGlyphs">60</text><text x="307.3" y="131.5" font-size="7.0" font-family='"Liberation Sans", sans-serif' fill="#aaa">&#176;</text><text x="309.8" y="142.6" font-size="11.5" font-family='"Liberation Sans", sans-serif' fill="#222" textLength="13.4" lengthAdjust="spacingAndGlyphs">21</text><text x="427.8" y="192.2" font-size="11.5" font-family='"Liberation Sans", sans-serif' fill="#222" textLength="13.4" lengthAdjust="spacingAndGlyphs">00</text>
<text x="280.7" y="18.6" font-size="19.5" font-family='"Liberation Mono", monospace' fill="#222" text-anchor="middle">(</text>
<text x="286.4" y="18.2" font-size="17.5" font-family='"Liberation Mono", monospace' fill="#222" textLength="12.1" lengthAdjust="spacingAndGlyphs">b</text>
<text x="303.9" y="18.6" font-size="19.5" font-family='"Liberation Mono", monospace' fill="#222" text-anchor="middle">)</text>
<text x="319.2" y="19.5" font-size="15.8" font-family='"Liberation Sans", sans-serif' fill="#222">V<tspan font-size="10.5" dy="1.5">d</tspan><tspan dy="-1.5">,</tspan></text>
<text x="345.1" y="19.5" font-size="15.8" font-family='"Liberation Sans", sans-serif' fill="#222" textLength="46.9" lengthAdjust="spacingAndGlyphs">t=550</text>
<path d="M329.9 65.2 L336 75 L333.2 75 L333.3 79 Q334 82.6 342.5 83 L342.5 87.2 Q329 87.5 328.2 79 L328 75 L323.6 75 Z" fill="#fdb520" stroke="#333" stroke-width="0.8"/>
<path d="M348.5 107 L357 107.5 Q352.5 110 355.6 114 Q357.3 116.5 357.2 119.5 L359 119.8 L354.4 125 L350.3 119.5 L352.2 119.5 Q352.5 116.5 350.5 113.5 Q348.5 110.5 348.5 107 Z" fill="#38c8d8" stroke="#234" stroke-width="0.8"/>
<path d="M330.4 99.7 L344.0 85.0 L345.0 90.3 L362.8 87.7 L365.4 102.8 L347.7 106.0 L348.2 111.1 Z" fill="none" stroke="#000" stroke-width="2.2" stroke-linejoin="miter"/>
<clipPath id="clipc"><path d="M0 0 L-157.5 0 A157.5 160.0 0 0 0 0 160.0 Z"/></clipPath>
<g transform="translate(185.4 215.0)">
<g clip-path="url(#clipc)"><g filter="url(#blur1)">
<rect x="-162.5" y="-5" width="167.5" height="170.0" fill="#f6f6fc"/>
<path d="M-145.5 -4.0 4.5 -4.0 4.5 146.9 -10.5 146.7 -24.5 144.8 -44.5 139.8 -58.5 134.9 -69.5 129.9 -84.5 121.5 -94.5 114.6 -105.1 106.0 -109.5 102.9 -114.5 100.6 -119.5 96.4 -125.5 88.6 -131.5 78.0 -136.9 62.0 -140.0 46.0 -141.2 35.0 -141.5 24.9 -144.3 20.0 -145.8 14.0 -146.3 7.0 -145.9 -4.0Z" fill="#f2f2fb"/>
<path d="M-137.5 -4.0 4.5 -4.0 4.5 137.3 -10.5 137.3 -23.5 135.9 -42.5 131.7 -55.5 127.4 -66.5 122.6 -78.5 116.2 -90.5 108.1 -99.5 100.8 -108.5 96.2 -115.5 91.0 -121.5 83.9 -127.6 75.0 -132.8 64.0 -136.5 51.9 -138.6 40.0 -139.7 26.0 -139.4 14.0 -137.6 -4.0Z" fill="#e6e6fc"/>
<path d="M-136.5 -4.0 4.5 -4.0 4.5 61.4 -0.5 61.5 -7.5 60.4 -26.5 54.3 -30.5 52.2 -46.5 37.0 -50.5 35.6 -55.5 35.0 -60.5 35.4 -73.5 43.1 -75.5 47.0 -77.2 52.0 -78.2 61.0 -75.5 65.0 -71.4 69.0 -68.5 71.0 -54.5 73.4 -47.5 73.7 -41.5 73.3 -31.6 78.0 -15.2 83.0 -5.5 85.0 4.5 85.3 4.5 132.6 -12.5 132.6 -25.5 131.4 -42.5 127.8 -56.5 123.3 -71.5 116.4 -82.5 110.1 -106.2 93.0 -113.5 87.0 -119.5 80.4 -124.9 73.0 -131.4 59.0 -135.5 46.5 -137.5 35.0 -138.3 23.0 -138.1 13.0 -136.5 -4.0Z" fill="#d3d3ff"/>
<path d="M-134.5 -4.0 -75.0 -4.0 -75.1 0.0 -77.9 10.0 -79.3 21.0 -85.5 29.0 -86.5 30.7 -86.9 33.0 -86.9 40.0 -85.5 50.0 -79.9 63.0 -70.9 73.0 -63.5 78.0 -56.5 81.7 -36.5 90.3 -16.5 96.9 -0.5 101.5 4.5 101.5 4.5 129.4 -10.5 129.6 -23.5 128.4 -40.5 124.8 -54.5 120.4 -70.5 113.4 -80.5 107.9 -88.5 102.6 -109.6 87.0 -122.2 71.0 -128.2 58.0 -133.0 44.0 -136.4 29.0 -136.8 24.0 -136.8 13.0 -135.4 -4.0Z" fill="#c0c6ff"/>
<path d="M-133.5 -4.0 -85.5 -4.0 -85.6 0.0 -87.6 8.0 -89.0 17.0 -89.8 29.0 -89.6 38.0 -87.5 52.0 -80.9 65.0 -72.7 75.0 -64.5 80.9 -56.5 85.5 -41.5 92.6 -25.5 97.9 -2.9 108.0 0.5 109.1 4.5 109.0 4.5 126.1 -10.5 126.6 -22.5 125.7 -38.5 122.6 -51.5 118.7 -69.5 111.0 -78.5 106.2 -87.5 100.3 -107.5 85.4 -119.0 70.0 -125.5 55.9 -129.3 45.0 -131.9 35.0 -134.9 11.0 -134.2 -4.0Z" fill="#adbfff"/>
<path d="M-129.5 -4.0 -88.3 -4.0 -88.5 1.0 -90.9 11.0 -92.0 20.0 -92.4 34.0 -91.6 44.0 -89.4 54.0 -83.9 64.0 -77.5 73.2 -74.5 77.0 -66.5 83.2 -58.5 88.4 -48.5 93.7 -38.5 98.0 -26.5 101.8 -20.5 105.0 -0.5 113.6 4.5 113.8 4.5 122.1 0.5 122.1 -9.5 123.7 -20.5 123.4 -34.5 121.0 -47.5 117.3 -69.5 108.4 -79.5 103.4 -96.5 91.6 -105.3 84.0 -116.4 68.0 -128.5 35.1 -129.7 20.0 -129.9 -4.0Z" fill="#9dc1ff"/>
<path d="M-120.5 -4.0 -92.8 -4.0 -92.8 0.0 -95.5 11.5 -96.1 22.0 -95.5 36.1 -94.0 47.0 -92.3 54.0 -91.3 56.0 -80.5 73.0 -76.5 77.7 -66.5 85.8 -53.5 94.6 -40.5 100.6 -27.5 104.6 -12.7 112.0 -7.9 117.0 -13.2 121.0 -18.5 121.0 -31.5 119.4 -45.5 115.5 -61.5 108.6 -70.5 105.5 -79.5 101.2 -95.5 90.6 -104.5 83.1 -114.2 67.0 -117.9 55.0 -120.1 45.0 -122.2 33.0 -122.5 25.0 -122.2 14.0 -120.7 -4.0Z" fill="#91c9ff"/>
<path d="M-116.5 -4.0 -93.5 -4.0 -93.6 0.0 -95.7 10.0 -96.8 21.0 -96.8 32.0 -95.7 42.0 -92.8 55.0 -87.5 65.1 -81.5 73.1 -74.5 80.8 -54.6 97.0 -42.5 102.6 -27.5 107.6 -23.5 110.0 -19.0 115.0 -23.5 117.3 -26.5 118.1 -34.5 116.6 -46.5 112.6 -60.5 106.2 -69.5 103.5 -79.5 99.0 -95.5 88.9 -103.9 82.0 -109.1 74.0 -113.3 66.0 -116.6 55.0 -118.8 44.0 -120.1 33.0 -120.2 23.0 -119.5 14.0 -117.2 0.0 -117.2 -4.0Z" fill="#85d2ff"/>
<path d="M-115.5 -4.0 -93.9 -4.0 -94.0 0.0 -96.8 15.0 -97.3 28.0 -96.2 42.0 -93.3 55.0 -86.5 67.6 -77.7 79.0 -59.2 96.0 -57.6 101.0 -58.5 101.6 -64.5 103.1 -69.5 101.5 -79.5 96.8 -93.5 88.7 -102.5 81.9 -110.5 69.2 -112.5 65.1 -115.7 54.0 -117.7 44.0 -118.9 34.0 -118.8 18.0 -116.1 0.0 -116.0 -4.0Z" fill="#7de1ff"/>
<path d="M-114.5 -4.0 -94.4 -4.0 -94.5 0.0 -97.3 15.0 -97.8 27.0 -96.7 41.0 -93.7 55.0 -86.8 68.0 -78.5 79.5 -65.8 92.0 -63.5 97.0 -63.5 98.3 -69.5 99.4 -71.5 99.1 -78.5 95.8 -87.6 90.0 -95.5 86.1 -101.8 81.0 -110.9 66.0 -115.5 50.0 -117.9 32.0 -117.6 17.0 -115.0 0.0 -114.9 -4.0Z" fill="#78f1fb"/>
<path d="M-113.5 -4.0 -94.9 -4.0 -94.9 0.0 -97.6 14.0 -98.2 26.0 -97.3 40.0 -94.7 53.0 -92.5 58.5 -87.5 67.6 -78.5 80.9 -71.0 89.0 -68.9 95.0 -73.5 95.4 -77.0 95.0 -87.5 88.8 -96.5 84.3 -101.6 80.0 -109.9 66.0 -112.0 60.0 -114.2 51.0 -116.1 40.0 -116.8 32.0 -116.4 15.0 -113.9 0.0 -113.8 -4.0Z" fill="#82ffeb"/>
<path d="M-112.5 -4.0 -95.3 -4.0 -95.4 0.0 -97.9 13.0 -98.6 23.0 -98.1 36.0 -96.3 48.0 -94.5 55.0 -92.2 60.0 -79.7 81.0 -76.5 85.0 -74.0 91.0 -74.5 91.5 -80.5 91.0 -83.5 90.2 -94.5 84.4 -98.5 81.8 -100.7 80.0 -102.7 77.0 -110.0 64.0 -113.7 50.0 -116.0 32.0 -115.8 17.0 -113.0 0.0 -113.0 -4.0Z" fill="#8cffdc"/>
<path d="M-111.5 -4.0 -95.7 -4.0 -95.7 0.0 -98.2 12.0 -99.0 22.0 -98.9 32.0 -97.5 44.0 -94.6 56.0 -89.5 65.9 -81.4 79.0 -80.7 81.0 -80.9 83.0 -79.2 87.0 -79.5 87.4 -88.5 86.7 -99.5 80.0 -104.5 72.9 -109.4 64.0 -113.5 48.0 -115.5 31.0 -115.0 16.0 -112.4 0.0 -112.3 -4.0Z" fill="#9affc9"/>
<path d="M-111.5 -4.0 -96.0 -4.0 -96.1 0.0 -98.5 11.3 -99.4 21.0 -99.2 33.0 -97.5 46.1 -95.0 56.0 -90.5 65.1 -83.1 77.0 -81.9 80.0 -83.2 84.0 -87.5 85.9 -91.5 84.5 -99.6 79.0 -108.5 64.5 -110.9 57.0 -113.7 43.0 -114.9 29.0 -114.4 16.0 -111.7 0.0 -111.6 -4.0Z" fill="#a6ffb8"/>
<path d="M-110.5 -4.0 -96.3 -4.0 -96.4 0.0 -98.5 9.7 -99.5 18.2 -99.5 33.9 -98.5 42.5 -95.5 56.0 -83.1 79.0 -84.2 83.0 -88.5 84.7 -90.5 84.4 -92.5 83.3 -99.5 78.0 -108.1 64.0 -110.8 55.0 -113.4 41.0 -114.4 28.0 -113.7 15.0 -111.0 0.0 -111.0 -4.0Z" fill="#b6ffa4"/>
<path d="M-109.5 -4.0 -96.6 -4.0 -96.6 0.0 -98.6 9.0 -99.7 18.0 -99.6 35.0 -98.5 44.0 -95.7 56.0 -84.2 78.0 -85.2 82.0 -89.5 83.5 -91.5 83.2 -94.5 81.4 -98.5 78.3 -100.2 76.0 -107.9 63.0 -110.7 53.0 -113.0 40.0 -113.8 27.0 -113.1 15.0 -110.4 0.0 -110.3 -4.0Z" fill="#c5ff91"/>
<path d="M-109.5 -4.0 -96.8 -4.0 -96.9 0.0 -98.6 8.0 -99.8 17.0 -100.0 34.0 -98.6 45.0 -96.0 56.0 -91.5 65.4 -85.5 76.0 -85.4 78.0 -86.2 81.0 -90.5 82.3 -92.5 82.1 -94.5 80.8 -98.2 78.0 -99.6 76.0 -107.3 63.0 -110.1 53.0 -112.3 41.0 -113.2 27.0 -112.3 13.0 -109.7 0.0 -109.7 -4.0Z" fill="#d7ff7c"/>
<path d="M-108.5 -4.0 -97.0 -4.0 -97.1 0.0 -99.0 9.0 -100.2 18.0 -100.5 27.0 -100.0 36.0 -98.6 46.0 -96.3 56.0 -92.5 64.2 -86.5 75.0 -87.3 80.0 -89.5 80.7 -92.5 81.2 -93.5 80.9 -98.4 77.0 -106.8 63.0 -109.9 52.0 -112.1 39.0 -112.7 27.0 -112.1 15.0 -109.3 0.0 -109.2 -4.0Z" fill="#e7ff69"/>
<path d="M-108.5 -4.0 -97.2 -4.0 -97.3 0.0 -99.3 9.0 -100.4 19.0 -100.7 29.0 -100.1 38.0 -98.7 47.0 -96.5 56.1 -92.5 64.9 -87.5 74.0 -88.5 79.2 -93.5 80.0 -97.9 77.0 -106.4 63.0 -108.8 55.0 -111.7 39.0 -112.3 28.0 -111.8 16.0 -108.9 0.0 -108.9 -4.0Z" fill="#faf853"/>
<path d="M-108.5 -4.0 -97.5 -4.0 -97.5 0.0 -99.5 9.0 -100.7 19.0 -100.9 28.0 -100.4 37.0 -98.9 47.0 -96.5 56.9 -88.5 73.0 -89.5 78.2 -94.5 78.8 -97.5 77.0 -106.0 63.0 -108.9 53.0 -111.2 40.0 -112.0 27.0 -111.3 15.0 -108.6 0.0 -108.5 -4.0Z" fill="#ffe450"/>
<path d="M-107.5 -4.0 -97.7 -4.0 -97.8 0.0 -99.7 9.0 -100.9 19.0 -101.1 28.0 -100.6 37.0 -99.2 47.0 -96.8 57.0 -89.4 72.0 -90.5 77.1 -95.5 77.6 -97.5 76.3 -106.1 62.0 -109.0 51.0 -111.1 38.0 -111.7 26.0 -110.9 14.0 -108.3 0.0 -108.2 -4.0Z" fill="#ffcc4d"/>
<path d="M-107.5 -4.0 -98.0 -4.0 -98.0 0.0 -99.8 8.0 -101.1 19.0 -101.3 29.0 -100.8 38.0 -97.6 55.0 -90.8 71.0 -90.7 73.0 -91.5 76.1 -96.5 76.1 -100.5 71.2 -105.8 62.0 -109.1 49.0 -110.9 37.0 -111.4 25.0 -110.6 14.0 -108.0 0.0 -107.9 -4.0Z" fill="#ffb34a"/>
<path d="M-107.5 -4.0 -98.2 -4.0 -98.3 0.0 -100.0 7.0 -101.1 15.0 -101.7 26.0 -101.1 38.0 -100.0 46.0 -98.0 55.0 -94.5 63.9 -92.1 72.0 -92.0 74.0 -92.5 75.0 -94.8 75.0 -100.5 70.1 -102.5 67.3 -105.5 61.8 -109.0 48.0 -110.7 36.0 -111.0 24.0 -110.1 13.0 -107.6 0.0 -107.6 -4.0Z" fill="#ff9d47"/>
<path d="M-106.5 -4.0 -98.5 -4.0 -98.5 0.0 -99.3 2.0 -101.2 12.0 -102.0 23.0 -101.9 32.0 -100.1 48.0 -93.5 73.4 -101.5 66.7 -104.5 63.0 -106.5 57.3 -108.7 48.0 -110.5 34.6 -110.7 24.0 -109.8 13.0 -107.1 0.0 -107.0 -4.0Z" fill="#ff8244"/>
<path d="M-105.5 -4.0 -99.7 -4.0 -99.8 0.0 -101.5 9.0 -102.4 18.0 -102.4 34.0 -100.8 48.0 -96.2 68.0 -96.5 68.6 -104.4 61.0 -107.5 51.3 -109.5 41.0 -110.4 28.0 -109.5 13.0 -106.3 0.0 -106.2 -4.0Z" fill="#ff6a41"/>
<path d="M-103.5 -4.0 -101.0 -4.0 -101.1 0.0 -103.5 16.0 -103.7 32.0 -102.7 44.0 -99.1 62.0 -99.5 63.3 -102.7 60.0 -104.6 54.0 -107.5 42.0 -109.2 30.0 -108.1 17.0 -104.3 0.0 -104.3 -4.0Z" fill="#ff4f3e"/>
<path d="M-103.5 4.0 -103.5 5.6 -103.5 4.0ZM-104.5 8.2 -104.5 12.8 -104.7 9.0ZM-105.5 13.3 -105.0 15.0 -104.8 38.0 -104.1 43.0 -104.5 46.5 -107.0 29.0 -105.6 14.0ZM-103.5 47.4 -103.5 50.6 -103.8 48.0ZM-102.5 52.8 -102.5 54.2 -102.6 53.0Z" fill="#e63b3b"/>
</g>
<path d="M0 0 L-52.5 0 A52.5 53.3 0 0 0 0 53.3 Z" fill="#fff" fill-opacity="0.30"/>
</g>
<path d="M-26.2 0 A26.2 26.7 0 0 0 0 26.7M-52.5 0 A52.5 53.3 0 0 0 0 53.3M-78.8 0 A78.8 80.0 0 0 0 0 80.0M-105.0 0 A105.0 106.7 0 0 0 0 106.7M-131.2 0 A131.2 133.3 0 0 0 0 133.3M-157.5 0 A157.5 160.0 0 0 0 0 160.0M0 0 L-157.5 0.0M0 0 L-152.1 41.4M0 0 L-136.4 80.0M0 0 L-111.4 113.1M0 0 L-78.8 138.6M0 0 L-40.8 154.5M0 0 L-0.0 160.0" fill="none" stroke="#7e7e7e" stroke-width="1" stroke-dasharray="4 2"/>
</g>
<rect x="198.0" y="215.0" width="8.0" height="160.0" fill="url(#jetg)"/>
<line x1="206.0" y1="375.0" x2="207.8" y2="375.0" stroke="#000" stroke-width="0.8"/>
<text x="209.6" y="379.3" font-size="12.0" font-family='"Liberation Sans", sans-serif' fill="#222">0</text>
<line x1="206.0" y1="343.0" x2="207.8" y2="343.0" stroke="#000" stroke-width="0.8"/>
<text x="209.6" y="347.3" font-size="12.0" font-family='"Liberation Sans", sans-serif' fill="#222">20</text>
<line x1="206.0" y1="311.0" x2="207.8" y2="311.0" stroke="#000" stroke-width="0.8"/>
<text x="209.6" y="315.3" font-size="12.0" font-family='"Liberation Sans", sans-serif' fill="#222">40</text>
<line x1="206.0" y1="279.0" x2="207.8" y2="279.0" stroke="#000" stroke-width="0.8"/>
<text x="209.6" y="283.3" font-size="12.0" font-family='"Liberation Sans", sans-serif' fill="#222">60</text>
<line x1="206.0" y1="247.0" x2="207.8" y2="247.0" stroke="#000" stroke-width="0.8"/>
<text x="209.6" y="251.3" font-size="12.0" font-family='"Liberation Sans", sans-serif' fill="#222">80</text>
<line x1="206.0" y1="215.0" x2="207.8" y2="215.0" stroke="#000" stroke-width="0.8"/>
<text x="209.6" y="219.3" font-size="12.0" font-family='"Liberation Sans", sans-serif' fill="#222">100</text>
<text transform="translate(240 298.5) rotate(-90)" text-anchor="middle" font-size="13.5" font-family='"Liberation Sans", sans-serif' fill="#222">J<tspan font-size="9" dy="2">Pedersen</tspan><tspan dy="-2"> [mA/m]</tspan></text>
<text x="43.4" y="327.3" font-size="10.0" font-family='"Liberation Sans", sans-serif' fill="#999" textLength="12.2" lengthAdjust="spacingAndGlyphs">60</text><text x="57.8" y="324.5" font-size="7.0" font-family='"Liberation Sans", sans-serif' fill="#aaa">&#176;</text><text x="60.3" y="335.6" font-size="11.5" font-family='"Liberation Sans", sans-serif' fill="#222" textLength="13.4" lengthAdjust="spacingAndGlyphs">21</text><text x="178.3" y="385.2" font-size="11.5" font-family='"Liberation Sans", sans-serif' fill="#222" textLength="13.4" lengthAdjust="spacingAndGlyphs">00</text>
<text x="10.7" y="214.6" font-size="12.0" font-family='"Liberation Sans", sans-serif' fill="#222" textLength="13.4" lengthAdjust="spacingAndGlyphs">18</text>
<text x="26.4" y="211.5" font-size="19.5" font-family='"Liberation Mono", monospace' fill="#222" text-anchor="middle">(</text>
<text x="31.0" y="210.2" font-size="13.5" font-family='"Liberation Sans", sans-serif' fill="#333" textLength="13.0" lengthAdjust="spacingAndGlyphs">C</text>
<text x="47.0" y="211.5" font-size="19.5" font-family='"Liberation Mono", monospace' fill="#222" text-anchor="middle">)</text>
<text x="50.6" y="211.5" font-size="14.5" font-family='"Liberation Sans", sans-serif' fill="#222">J</text>
<text x="56.3" y="213.0" font-size="11.0" font-family='"Liberation Sans", sans-serif' fill="#222" textLength="50.8" lengthAdjust="spacingAndGlyphs">Pedersen</text>
<text x="108.5" y="211.5" font-size="15.8" font-family='"Liberation Sans", sans-serif' fill="#222">,</text>
<text x="117.1" y="211.5" font-size="15.8" font-family='"Liberation Sans", sans-serif' fill="#222" textLength="44.9" lengthAdjust="spacingAndGlyphs">t=550</text>
<path d="M95.4 273.8 L105.8 292.6 L99.0 291.4 L97.8 303.8 L83.0 302.2 L85.4 288.6 L80.0 287.6 Z" fill="none" stroke="#c00000" stroke-width="1.6" stroke-linejoin="miter"/>
<clipPath id="clipd"><path d="M0 0 L-157.5 0 A157.5 160.0 0 0 0 0 160.0 Z"/></clipPath>
<g transform="translate(433.6 214.8)">
<g clip-path="url(#clipd)"><g filter="url(#blur1)">
<rect x="-162.5" y="-5" width="167.5" height="170.0" fill="#f6f6fc"/>
<path d="M-137.5 -4.0 -72.9 -4.0 -73.0 0.0 -75.8 10.0 -77.3 21.0 -76.8 33.0 -74.7 44.0 -67.5 53.5 -61.5 62.7 -53.5 70.3 -43.5 78.3 -32.5 84.1 -17.5 89.5 -4.5 92.5 4.5 93.0 4.5 142.1 -7.5 141.9 -19.5 140.4 -30.5 137.9 -47.5 132.6 -59.5 127.5 -80.5 116.2 -85.5 115.2 -90.5 113.0 -97.5 108.7 -106.5 101.3 -119.5 85.2 -126.6 75.0 -131.5 62.8 -134.5 56.9 -136.5 51.1 -139.0 39.0 -140.0 27.0 -139.7 15.0 -137.8 -4.0Z" fill="#f2f2fb"/>
<path d="M-131.5 -4.0 -85.0 -4.0 -85.1 0.0 -88.0 13.0 -89.0 24.0 -88.0 37.0 -85.2 50.0 -76.5 61.0 -69.5 72.0 -59.5 81.1 -48.5 89.0 -35.5 96.2 -18.5 103.0 -3.5 106.9 4.5 107.4 4.5 133.5 -7.5 133.3 -19.5 131.7 -38.5 127.2 -48.5 124.0 -80.5 110.5 -91.5 103.4 -100.5 95.8 -111.8 83.0 -121.4 71.0 -125.5 62.3 -128.9 53.0 -132.3 39.0 -133.5 28.0 -133.5 15.0 -131.9 -4.0Z" fill="#e6e6fc"/>
<path d="M-127.5 -4.0 -87.9 -4.0 -88.0 0.0 -89.5 5.0 -91.5 16.5 -91.8 25.0 -91.5 33.9 -90.5 40.9 -87.6 52.0 -78.5 62.1 -71.8 74.0 -61.5 83.4 -48.5 92.8 -35.5 100.2 -18.5 107.6 -3.5 111.6 0.5 112.3 4.5 112.2 4.5 129.9 -8.5 129.8 -20.5 128.3 -41.5 123.5 -51.5 120.3 -70.5 111.6 -78.5 107.3 -92.5 98.3 -101.5 90.5 -110.7 80.0 -118.1 70.0 -121.8 61.0 -125.0 51.0 -128.1 38.0 -129.4 26.0 -129.5 13.0 -128.2 -4.0Z" fill="#d3d3ff"/>
<path d="M-123.5 -4.0 -89.4 -4.0 -89.5 0.0 -92.0 11.0 -93.2 22.0 -93.0 32.0 -91.4 43.0 -89.2 52.0 -80.0 63.0 -73.5 74.6 -64.5 83.5 -53.5 92.6 -45.6 98.0 -38.5 102.0 -25.5 108.1 -14.8 112.0 -0.5 115.4 4.5 115.4 4.5 126.9 -10.5 126.8 -21.5 125.5 -40.5 121.3 -52.5 117.5 -70.5 109.7 -80.5 104.2 -92.5 95.3 -101.5 86.4 -108.8 78.0 -115.9 68.0 -119.7 58.0 -122.6 48.0 -125.2 35.0 -125.9 26.0 -125.7 14.0 -124.2 -4.0Z" fill="#c0c6ff"/>
<path d="M-119.5 -4.0 -90.7 -4.0 -90.8 0.0 -93.8 14.0 -94.6 25.0 -93.8 36.0 -91.6 48.0 -90.2 53.0 -80.5 64.0 -74.5 75.9 -69.5 81.3 -63.6 87.0 -53.5 95.0 -37.6 105.0 -24.5 111.0 -0.5 119.9 4.5 120.1 4.5 121.5 0.5 121.6 -9.2 124.0 -13.5 124.1 -25.5 122.4 -44.5 118.0 -54.5 114.5 -74.5 106.0 -84.5 100.0 -93.5 92.9 -106.0 78.0 -113.0 68.0 -114.8 64.0 -118.3 53.0 -121.5 38.0 -122.4 29.0 -122.0 15.0 -119.9 0.0 -119.8 -4.0Z" fill="#adbfff"/>
<path d="M-116.5 -4.0 -92.1 -4.0 -92.1 0.0 -95.0 14.0 -95.8 26.0 -94.4 41.0 -91.0 54.0 -81.5 64.4 -75.6 77.0 -66.5 85.8 -55.0 96.0 -50.9 99.0 -20.1 117.0 -19.2 118.0 -30.5 119.0 -38.5 117.7 -49.5 114.4 -69.5 106.5 -78.5 102.1 -87.5 96.3 -93.5 91.4 -99.5 84.8 -107.8 74.0 -112.9 66.0 -115.9 57.0 -118.3 47.0 -120.3 34.0 -120.5 25.0 -119.8 13.0 -117.5 0.0 -117.5 -4.0Z" fill="#9dc1ff"/>
<path d="M-116.5 -3.4 -116.5 -4.0 -93.0 -4.0 -93.1 0.0 -95.7 12.0 -96.8 26.0 -95.7 39.0 -92.5 53.2 -88.5 58.6 -82.2 65.0 -77.5 75.1 -74.5 79.2 -55.5 97.3 -40.6 108.0 -34.2 113.0 -34.5 113.3 -41.5 114.4 -45.5 114.0 -53.5 111.2 -61.5 107.5 -70.5 104.4 -77.5 101.1 -85.5 96.2 -92.5 90.8 -98.5 84.6 -106.7 74.0 -111.8 66.0 -113.3 62.0 -116.7 50.0 -118.8 38.0 -119.5 31.0 -119.4 20.0 -116.5 -3.0Z" fill="#91c9ff"/>
<path d="M-115.5 -3.9 -93.7 -4.0 -93.7 0.0 -96.7 15.0 -97.3 27.0 -95.9 41.0 -92.8 54.0 -86.5 62.0 -82.7 66.0 -76.5 78.1 -55.5 99.3 -44.0 109.0 -44.5 109.5 -54.5 108.9 -72.5 102.0 -82.5 96.7 -90.5 91.1 -95.5 86.5 -102.0 79.0 -108.3 70.0 -111.2 65.0 -114.1 56.0 -116.7 45.0 -118.3 34.0 -118.3 18.0 -117.3 9.0 -115.6 0.0 -115.5 -3.0Z" fill="#85d2ff"/>
<path d="M-114.5 -4.0 -94.2 -4.0 -94.3 0.0 -97.2 15.0 -97.8 27.0 -96.3 41.0 -93.2 54.0 -83.5 66.0 -76.5 79.0 -61.0 95.0 -57.5 100.2 -53.7 104.0 -54.5 104.7 -58.5 104.0 -63.5 104.3 -66.5 103.3 -78.5 97.6 -87.5 92.0 -92.6 88.0 -99.5 80.8 -105.3 73.0 -110.1 65.0 -114.9 49.0 -117.5 32.0 -117.2 17.0 -114.6 0.0 -114.5 -4.0Z" fill="#7de1ff"/>
<path d="M-113.5 -4.0 -94.8 -4.0 -94.9 0.0 -97.7 15.0 -98.3 27.0 -96.8 41.0 -93.7 54.0 -91.0 58.0 -83.5 66.7 -77.4 79.0 -63.5 94.0 -59.5 101.1 -65.5 102.0 -68.5 101.4 -78.5 96.4 -90.5 88.6 -94.6 85.0 -99.9 79.0 -106.2 70.0 -109.7 64.0 -114.0 49.0 -116.5 32.0 -116.2 16.0 -113.6 0.0 -113.5 -4.0Z" fill="#78f1fb"/>
<path d="M-112.5 -4.0 -95.4 -4.0 -95.5 0.0 -98.3 15.0 -98.8 27.0 -97.3 41.0 -94.2 54.0 -92.4 57.0 -83.8 67.0 -78.1 79.0 -67.4 91.0 -63.0 99.0 -67.5 99.5 -71.5 99.1 -79.5 94.8 -91.5 86.7 -95.5 83.0 -99.8 78.0 -108.8 64.0 -113.4 48.0 -115.8 32.0 -115.6 18.0 -114.7 10.0 -112.8 0.0 -112.8 -4.0Z" fill="#82ffeb"/>
<path d="M-111.5 -4.0 -95.9 -4.0 -96.0 0.0 -98.5 12.4 -99.3 27.0 -98.2 39.0 -95.0 53.0 -93.8 56.0 -84.2 67.0 -78.5 79.5 -70.4 89.0 -66.4 96.0 -66.5 97.0 -72.5 96.9 -75.5 96.2 -91.5 85.7 -99.1 78.0 -108.0 64.0 -112.7 48.0 -115.1 31.0 -114.7 16.0 -112.1 0.0 -112.0 -4.0Z" fill="#8cffdc"/>
<path d="M-110.5 -4.0 -96.3 -4.0 -96.4 0.0 -98.8 12.0 -99.8 25.0 -98.6 39.0 -96.5 49.3 -94.4 56.0 -84.5 67.3 -78.8 80.0 -73.2 87.0 -69.6 94.0 -70.5 94.7 -76.5 94.0 -79.5 93.0 -93.5 83.0 -99.9 76.0 -107.7 63.0 -112.2 47.0 -114.4 31.0 -114.0 16.0 -111.4 0.0 -111.3 -4.0Z" fill="#9affc9"/>
<path d="M-110.5 -4.0 -96.7 -4.0 -96.8 0.0 -99.5 14.4 -100.1 26.0 -99.0 39.0 -96.7 50.0 -94.8 56.0 -84.6 68.0 -79.4 80.0 -76.5 84.0 -72.5 92.0 -75.5 92.0 -81.5 90.6 -88.5 86.1 -93.5 82.1 -99.2 76.0 -106.9 63.0 -111.4 47.0 -113.7 31.0 -113.3 16.0 -110.6 0.0 -110.6 -4.0Z" fill="#a6ffb8"/>
<path d="M-109.5 -4.0 -97.1 -4.0 -97.1 0.0 -99.7 13.0 -100.5 24.0 -99.9 35.0 -98.0 46.0 -95.3 56.0 -85.0 68.0 -75.8 89.0 -76.5 89.8 -86.5 86.7 -95.5 79.4 -97.7 77.0 -101.8 71.0 -107.0 61.0 -111.2 45.0 -113.0 30.0 -112.6 16.0 -109.9 0.0 -109.8 -4.0Z" fill="#b6ffa4"/>
<path d="M-108.5 -4.0 -97.4 -4.0 -97.5 0.0 -100.0 13.0 -100.8 23.0 -100.4 33.0 -98.8 44.0 -95.7 56.0 -85.4 68.0 -81.1 78.0 -80.5 80.0 -80.7 82.0 -78.8 87.0 -84.5 85.8 -86.5 86.0 -89.5 84.1 -94.1 80.0 -97.0 77.0 -100.4 72.0 -105.0 64.0 -106.7 60.0 -110.7 44.0 -112.4 30.0 -111.9 16.0 -109.2 0.0 -109.1 -4.0Z" fill="#c5ff91"/>
<path d="M-108.5 -3.1 -108.5 -4.0 -97.8 -4.0 -97.9 0.0 -100.1 11.0 -101.1 22.0 -101.0 31.0 -99.6 42.0 -96.1 56.0 -85.8 68.0 -82.3 76.0 -81.4 79.0 -81.7 84.0 -82.5 84.4 -87.5 84.8 -88.5 84.2 -96.3 77.0 -104.0 65.0 -107.1 57.0 -110.2 44.0 -111.8 30.0 -111.3 16.0 -108.5 0.0 -108.5 -3.0Z" fill="#d7ff7c"/>
<path d="M-107.5 -4.0 -98.2 -4.0 -98.3 0.0 -100.8 13.0 -101.5 22.0 -101.2 32.0 -99.8 43.0 -96.4 56.0 -86.2 68.0 -83.0 75.0 -82.3 77.0 -82.2 79.0 -82.7 82.0 -83.5 83.2 -88.5 83.5 -91.5 81.3 -95.7 77.0 -99.9 71.0 -104.0 64.0 -107.2 55.0 -110.0 42.0 -111.3 29.0 -110.7 16.0 -107.9 0.0 -107.8 -4.0Z" fill="#e7ff69"/>
<path d="M-106.5 -4.0 -98.9 -4.0 -99.0 0.0 -101.2 11.0 -102.1 21.0 -102.0 29.0 -101.0 39.0 -96.9 56.0 -86.5 68.0 -83.4 75.0 -83.0 78.0 -83.5 81.0 -84.5 82.2 -89.5 82.3 -96.0 76.0 -103.5 64.0 -106.9 54.0 -109.6 41.0 -110.8 28.0 -109.8 13.0 -107.1 0.0 -107.0 -4.0Z" fill="#faf853"/>
<path d="M-104.5 -4.0 -100.2 -4.0 -100.3 0.0 -102.5 13.0 -103.0 24.0 -102.4 34.0 -100.3 46.0 -97.1 57.0 -86.2 69.0 -83.6 76.0 -84.5 81.0 -89.5 81.4 -90.5 81.0 -95.6 76.0 -103.0 64.0 -106.5 52.7 -109.2 38.0 -109.8 27.0 -108.9 16.0 -105.5 0.0 -105.5 -4.0Z" fill="#ffe450"/>
<path d="M-103.5 -3.4 -103.5 -4.0 -101.5 -4.0 -101.6 0.0 -103.8 13.0 -104.3 23.0 -103.8 33.0 -102.0 44.0 -98.4 57.0 -95.5 59.3 -86.4 69.0 -84.5 74.0 -85.5 80.0 -90.5 80.2 -91.5 79.6 -95.2 76.0 -97.4 73.0 -102.4 64.0 -102.8 60.0 -105.5 50.0 -107.4 38.0 -108.0 27.0 -106.9 15.0 -103.6 0.0 -103.5 -3.0Z" fill="#ffcc4d"/>
<path d="M-105.5 28.2 -104.8 37.0 -102.7 47.0 -99.5 57.8 -93.5 61.9 -86.8 69.0 -85.2 74.0 -85.8 78.0 -86.5 79.0 -91.5 79.0 -92.5 78.3 -95.6 75.0 -100.5 67.0 -101.5 59.0 -105.2 42.0 -106.0 33.0 -105.6 29.0Z" fill="#ffb34a"/>
<path d="M-99.5 59.6 -92.5 63.8 -87.1 69.0 -85.9 73.0 -86.6 77.0 -87.5 77.9 -92.5 77.6 -95.2 75.0 -99.1 68.0 -99.9 60.0Z" fill="#ff9d47"/>
<path d="M-97.5 62.2 -90.5 66.1 -87.4 69.0 -86.5 71.0 -87.5 76.5 -92.5 76.7 -94.8 75.0 -97.1 71.0 -98.3 63.0Z" fill="#ff8244"/>
<path d="M-96.5 64.6 -89.5 67.9 -87.5 69.6 -87.5 71.9 -88.5 75.7 -93.5 75.5 -94.5 74.7 -95.4 73.0 -96.6 65.0Z" fill="#ff6a41"/>
<path d="M-94.5 66.6 -88.2 70.0 -88.8 74.0 -89.5 74.6 -93.8 74.0 -94.9 67.0Z" fill="#ff4f3e"/>
<path d="M-92.5 69.0 -89.5 70.5 -89.1 71.0 -89.5 73.0 -90.5 73.5 -92.5 73.0 -93.1 70.0Z" fill="#e63b3b"/>
<path d="M-90.5 71.4 -90.5 72.4 -91.2 72.0Z" fill="#c63838"/>
</g>
<path d="M0 0 L-52.5 0 A52.5 53.3 0 0 0 0 53.3 Z" fill="#fff" fill-opacity="0.45"/>
</g>
<path d="M-26.2 0 A26.2 26.7 0 0 0 0 26.7M-52.5 0 A52.5 53.3 0 0 0 0 53.3M-78.8 0 A78.8 80.0 0 0 0 0 80.0M-105.0 0 A105.0 106.7 0 0 0 0 106.7M-131.2 0 A131.2 133.3 0 0 0 0 133.3M-157.5 0 A157.5 160.0 0 0 0 0 160.0M0 0 L-157.5 0.0M0 0 L-152.1 41.4M0 0 L-136.4 80.0M0 0 L-111.4 113.1M0 0 L-78.8 138.6M0 0 L-40.8 154.5M0 0 L-0.0 160.0" fill="none" stroke="#7e7e7e" stroke-width="1" stroke-dasharray="4 2"/>
</g>
<rect x="446.8" y="214.7" width="8.0" height="160.0" fill="url(#jetg)"/>
<line x1="454.8" y1="374.7" x2="456.6" y2="374.7" stroke="#000" stroke-width="0.8"/>
<text x="458.4" y="379.0" font-size="12.0" font-family='"Liberation Sans", sans-serif' fill="#222">0</text>
<line x1="454.8" y1="342.7" x2="456.6" y2="342.7" stroke="#000" stroke-width="0.8"/>
<text x="458.4" y="347.0" font-size="12.0" font-family='"Liberation Sans", sans-serif' fill="#222">20</text>
<line x1="454.8" y1="310.7" x2="456.6" y2="310.7" stroke="#000" stroke-width="0.8"/>
<text x="458.4" y="315.0" font-size="12.0" font-family='"Liberation Sans", sans-serif' fill="#222">40</text>
<line x1="454.8" y1="278.7" x2="456.6" y2="278.7" stroke="#000" stroke-width="0.8"/>
<text x="458.4" y="283.0" font-size="12.0" font-family='"Liberation Sans", sans-serif' fill="#222">60</text>
<line x1="454.8" y1="246.7" x2="456.6" y2="246.7" stroke="#000" stroke-width="0.8"/>
<text x="458.4" y="251.0" font-size="12.0" font-family='"Liberation Sans", sans-serif' fill="#222">80</text>
<line x1="454.8" y1="214.7" x2="456.6" y2="214.7" stroke="#000" stroke-width="0.8"/>
<text x="458.4" y="219.0" font-size="12.0" font-family='"Liberation Sans", sans-serif' fill="#222">100</text>
<text transform="translate(489 295) rotate(-90)" text-anchor="middle" font-size="13.5" font-family='"Liberation Sans", sans-serif' fill="#222">J<tspan font-size="9" dy="2">Hall</tspan><tspan dy="-2"> [mA/m]</tspan></text>
<text x="292.9" y="327.3" font-size="10.0" font-family='"Liberation Sans", sans-serif' fill="#999" textLength="12.2" lengthAdjust="spacingAndGlyphs">60</text><text x="307.3" y="324.5" font-size="7.0" font-family='"Liberation Sans", sans-serif' fill="#aaa">&#176;</text><text x="309.8" y="335.6" font-size="11.5" font-family='"Liberation Sans", sans-serif' fill="#222" textLength="13.4" lengthAdjust="spacingAndGlyphs">21</text><text x="427.8" y="385.2" font-size="11.5" font-family='"Liberation Sans", sans-serif' fill="#222" textLength="13.4" lengthAdjust="spacingAndGlyphs">00</text>
<text x="259.8" y="214.6" font-size="12.0" font-family='"Liberation Sans", sans-serif' fill="#222" textLength="13.4" lengthAdjust="spacingAndGlyphs">18</text>
<text x="280.1" y="211.6" font-size="19.5" font-family='"Liberation Mono", monospace' fill="#222" text-anchor="middle">(</text>
<text x="285.8" y="211.2" font-size="17.5" font-family='"Liberation Mono", monospace' fill="#222" textLength="12.1" lengthAdjust="spacingAndGlyphs">d</text>
<text x="303.3" y="211.6" font-size="19.5" font-family='"Liberation Mono", monospace' fill="#222" text-anchor="middle">)</text>
<text x="313.8" y="211.5" font-size="15.8" font-family='"Liberation Sans", sans-serif' fill="#222">J</text>
<text x="318.9" y="213.0" font-size="11.0" font-family='"Liberation Sans", sans-serif' fill="#222" textLength="20.2" lengthAdjust="spacingAndGlyphs">Hall</text>
<text x="340.5" y="211.5" font-size="15.8" font-family='"Liberation Sans", sans-serif' fill="#222">,</text>
<text x="351.1" y="211.5" font-size="15.8" font-family='"Liberation Sans", sans-serif' fill="#222" textLength="46.9" lengthAdjust="spacingAndGlyphs">t=550</text>
<path d="M358.0 283.5 L339.5 276.5 L340.5 281.5 L323.5 287.0 L328.0 302.0 L346.0 297.0 L347.0 301.0 Z" fill="none" stroke="#000" stroke-width="2.2" stroke-linejoin="miter"/>
<path d="M244.0 436.0 C247.7 422.5 254.3 427.5 262.0 424.0 C269.7 420.5 270.3 411.2 290.0 415.0 C309.7 418.8 360.0 439.8 380.0 447.0 C400.0 454.2 406.7 454.2 410.0 458.0 C413.3 461.8 405.0 465.5 400.0 470.0 C395.0 474.5 373.3 480.3 380.0 485.0 C386.7 489.7 426.3 497.8 440.0 498.0 C453.7 498.2 472.0 480.3 462.0 486.0 C452.0 491.7 407.0 516.0 380.0 532.0 C353.0 548.0 315.0 575.7 300.0 582.0 C285.0 588.3 294.0 575.7 290.0 570.0 C286.0 564.3 280.2 554.0 276.0 548.0 C271.8 542.0 271.0 537.3 265.0 534.0 C259.0 530.7 244.2 532.8 240.0 528.0 C235.8 523.2 239.3 520.3 240.0 505.0 C240.7 489.7 240.3 449.5 244.0 436.0 Z" fill="#f8dfd2" filter="url(#bl1)"/>
<g filter="url(#bl3)">
<path d="M29.0 531.0 C27.5 527.0 30.8 524.7 36.0 522.0 C41.2 519.3 50.2 516.7 60.0 515.0 C69.8 513.3 83.3 512.8 95.0 512.0 C106.7 511.2 116.7 510.3 130.0 510.0 C143.3 509.7 160.8 510.7 175.0 510.0 C189.2 509.3 204.2 507.7 215.0 506.0 C225.8 504.3 235.8 496.7 240.0 500.0 C244.2 503.3 244.2 521.3 240.0 526.0 C235.8 530.7 223.3 524.7 215.0 528.0 C206.7 531.3 197.5 541.5 190.0 546.0 C182.5 550.5 180.0 554.0 170.0 555.0 C160.0 556.0 141.7 552.3 130.0 552.0 C118.3 551.7 107.0 551.7 100.0 553.0 C93.0 554.3 93.0 559.5 88.0 560.0 C83.0 560.5 77.2 558.3 70.0 556.0 C62.8 553.7 51.8 550.2 45.0 546.0 C38.2 541.8 30.5 535.0 29.0 531.0 Z" fill="#eebda6"/>
<path d="M48.0 524.0 C51.5 521.0 64.7 518.7 75.0 517.0 C85.3 515.3 101.2 514.2 110.0 514.0 C118.8 513.8 125.3 512.5 128.0 516.0 C130.7 519.5 129.8 530.5 126.0 535.0 C122.2 539.5 113.5 541.7 105.0 543.0 C96.5 544.3 83.5 544.3 75.0 543.0 C66.5 541.7 58.5 538.2 54.0 535.0 C49.5 531.8 44.5 527.0 48.0 524.0 Z" fill="#dc9a82"/>
<path d="M128.0 512.0 C133.0 506.5 156.3 512.0 170.0 512.0 C183.7 512.0 199.0 513.0 210.0 512.0 C221.0 511.0 231.3 504.3 236.0 506.0 C240.7 507.7 242.0 518.3 238.0 522.0 C234.0 525.7 221.7 524.7 212.0 528.0 C202.3 531.3 192.0 539.2 180.0 542.0 C168.0 544.8 148.7 550.0 140.0 545.0 C131.3 540.0 123.0 517.5 128.0 512.0 Z" fill="#e2a48c"/>
<path d="M248.0 446.0 C251.7 440.3 263.3 436.0 272.0 436.0 C280.7 436.0 294.3 441.7 300.0 446.0 C305.7 450.3 307.3 456.7 306.0 462.0 C304.7 467.3 298.7 474.0 292.0 478.0 C285.3 482.0 273.0 487.3 266.0 486.0 C259.0 484.7 253.0 476.7 250.0 470.0 C247.0 463.3 244.3 451.7 248.0 446.0 Z" fill="#f0bca4"/>
<path d="M236.0 500.0 C238.8 496.3 254.7 498.7 262.0 500.0 C269.3 501.3 279.0 504.7 280.0 508.0 C281.0 511.3 273.8 517.7 268.0 520.0 C262.2 522.3 250.3 525.3 245.0 522.0 C239.7 518.7 233.2 503.7 236.0 500.0 Z" fill="#f6cfbc"/>
<path d="M300.0 505.0 C309.2 499.2 330.8 507.2 345.0 510.0 C359.2 512.8 384.2 515.7 385.0 522.0 C385.8 528.3 362.5 540.8 350.0 548.0 C337.5 555.2 320.0 565.5 310.0 565.0 C300.0 564.5 291.7 555.0 290.0 545.0 C288.3 535.0 290.8 510.8 300.0 505.0 Z" fill="#f8dccd"/>
</g>
<path d="M412.0 458.0 C416.2 456.7 435.7 462.8 445.0 466.0 C454.3 469.2 465.2 474.5 468.0 477.0 C470.8 479.5 465.8 480.2 462.0 481.0 C458.2 481.8 452.0 483.2 445.0 482.0 C438.0 480.8 425.5 478.0 420.0 474.0 C414.5 470.0 407.8 459.3 412.0 458.0 Z" fill="#e4e4e4" filter="url(#bl2)"/>
<path d="M395.0 462.0 C400.8 460.5 420.0 463.3 430.0 466.0 C440.0 468.7 453.3 474.0 455.0 478.0 C456.7 482.0 447.5 488.7 440.0 490.0 C432.5 491.3 417.5 488.5 410.0 486.0 C402.5 483.5 397.5 479.0 395.0 475.0 C392.5 471.0 389.2 463.5 395.0 462.0 Z" fill="#f0f0f0" filter="url(#bl2)"/>
<path d="M316.0 458.0 C320.7 455.8 331.3 455.0 340.0 455.0 C348.7 455.0 362.3 455.8 368.0 458.0 C373.7 460.2 374.3 464.3 374.0 468.0 C373.7 471.7 371.7 477.3 366.0 480.0 C360.3 482.7 348.3 484.0 340.0 484.0 C331.7 484.0 320.7 482.7 316.0 480.0 C311.3 477.3 312.0 471.7 312.0 468.0 C312.0 464.3 311.3 460.2 316.0 458.0 Z" fill="#c4c4c4" filter="url(#bl2)"/>
<path d="M328.0 462.0 C331.0 459.5 346.0 459.3 352.0 460.0 C358.0 460.7 363.7 463.5 364.0 466.0 C364.3 468.5 359.0 473.5 354.0 475.0 C349.0 476.5 338.3 477.2 334.0 475.0 C329.7 472.8 325.0 464.5 328.0 462.0 Z" fill="#a0a0a0" filter="url(#bl3)"/>
<path d="M92.0 560.0 L116.0 551.0 L134.0 553.0 L156.0 557.0 L178.0 557.0 L191.0 548.0 L205.0 534.0 L212.0 529.0 L240.0 529.0 L265.0 534.0 L276.0 548.0 L284.0 572.0 L290.0 592.0 L192.0 647.0 L100.0 583.0 Z" fill="#050505" filter="url(#bl1)"/>
<path d="M92.0 562.0 L120.0 560.0 L200.0 600.0 L194.0 647.0 L100.0 583.0 Z" fill="url(#lftfade)" filter="url(#bl2)"/>
<path d="M95.0 560.0 C100.0 558.2 118.3 556.0 130.0 556.0 C141.7 556.0 155.0 561.0 165.0 560.0 C175.0 559.0 182.5 554.7 190.0 550.0 C197.5 545.3 200.8 535.2 210.0 532.0 C219.2 528.8 236.3 530.0 245.0 531.0 C253.7 532.0 261.2 536.2 262.0 538.0 C262.8 539.8 256.2 541.7 250.0 542.0 C243.8 542.3 234.2 537.7 225.0 540.0 C215.8 542.3 207.5 551.7 195.0 556.0 C182.5 560.3 165.8 564.2 150.0 566.0 C134.2 567.8 109.2 568.0 100.0 567.0 C90.8 566.0 90.0 561.8 95.0 560.0 Z" fill="#808080" fill-opacity="0.6" filter="url(#bl2)"/>
<path d="M262.0 533.0 L270.0 535.0 L280.0 548.0 L290.0 575.0 L292.0 592.0 L270.0 603.0 L268.0 560.0 Z" fill="url(#rtfade)" filter="url(#bl2)"/>
<path d="M225.0 532.0 C230.0 529.5 253.2 530.3 262.0 533.0 C270.8 535.7 273.8 541.0 278.0 548.0 C282.2 555.0 288.3 570.0 287.0 575.0 C285.7 580.0 276.2 580.5 270.0 578.0 C263.8 575.5 256.3 565.0 250.0 560.0 C243.7 555.0 236.2 552.7 232.0 548.0 C227.8 543.3 220.0 534.5 225.0 532.0 Z" fill="url(#trg)" filter="url(#bl3)"/>
<path d="M129.0 518.0 C130.2 514.8 134.3 514.8 137.0 515.0 C139.7 515.2 142.3 517.5 145.0 519.0 C147.7 520.5 148.0 523.7 153.0 524.0 C158.0 524.3 167.7 522.0 175.0 521.0 C182.3 520.0 192.7 517.8 197.0 518.0 C201.3 518.2 201.8 520.3 201.0 522.0 C200.2 523.7 198.0 526.0 192.0 528.0 C186.0 530.0 173.3 532.3 165.0 534.0 C156.7 535.7 147.8 538.0 142.0 538.0 C136.2 538.0 132.2 537.3 130.0 534.0 C127.8 530.7 127.8 521.2 129.0 518.0 Z" fill="#3c0606" stroke="#e030e0" stroke-width="1.2"/>
<path d="M236 436 L290 414 L468 477" fill="none" stroke="#888" stroke-width="0.6"/>
<path d="M200 485 L300 530" fill="none" stroke="#222" stroke-width="0.7"/>
<g fill="none" stroke="#888" stroke-width="0.6">
<path d="M97.4 477.5 L96.8 479.2 L96.6 480.8 L96.9 482.4 L97.7 483.9 L99.0 485.4 L100.8 486.7 L103.0 488.0 L105.7 489.2 L108.9 490.2 L112.5 491.2 L116.4 492.0 L120.8 492.7 L125.5 493.3 L130.5 493.7 L135.8 494.0 L141.4 494.2 L147.2 494.2 L153.2 494.1 L159.4 493.9 L165.6 493.5 L172.0 493.0 L178.4 492.3 L184.9 491.6 L191.3 490.7 L197.6 489.6 L203.8 488.5 L209.9 487.3 L215.8 486.0 L221.5 484.6 L227.0 483.1 L232.1 481.5 L237.0 479.9 L241.5 478.2 L245.7 476.5 L249.4 474.7 L252.8 473.0 L255.7 471.2 L258.2 469.4 L260.2 467.6 L261.7 465.8 L262.8 464.1 L263.3 462.4 L263.4 460.8 L262.9 459.2 L262.0 457.7 L260.6 456.3 L258.7 454.9 L256.3 453.7 L253.5 452.6 L250.3 451.5 L246.6 450.6 L242.5 449.8 L238.1 449.1 L233.3 448.6 L228.2 448.2 L222.8 447.9 L217.2 447.8 L211.3 447.8 L205.3 447.9 L199.1 448.2"/>
<path d="M63.6 489.4 L63.0 491.6 L62.9 493.7 L63.3 495.7 L64.3 497.6 L65.9 499.5 L67.9 501.2 L70.4 502.9 L73.5 504.5 L77.0 505.9 L81.0 507.3 L85.5 508.5 L90.4 509.6 L95.7 510.5 L101.4 511.3 L107.4 512.0 L113.8 512.5 L120.5 512.9 L127.5 513.1 L134.7 513.2 L142.1 513.1 L149.8 512.9 L157.5 512.5 L165.4 512.0 L173.4 511.3 L181.4 510.5 L189.5 509.6 L197.5 508.5 L205.4 507.3 L213.3 505.9 L221.0 504.5 L228.6 502.9 L235.9 501.2 L243.1 499.5 L250.0 497.6 L256.5 495.7 L262.8 493.7 L268.7 491.6 L274.3 489.5 L279.5 487.3 L284.2 485.1 L288.5 482.8 L292.3 480.6 L295.7 478.3 L298.5 476.0 L300.9 473.8 L302.8 471.6 L304.1 469.4 L304.9 467.2 L305.1 465.1 L304.9 463.1 L304.1 461.1 L302.8 459.2 L300.9 457.4 L298.6 455.7 L295.7 454.1 L292.3 452.6 L288.5 451.2 L284.2 450.0 L279.5 448.8 L274.3 447.8"/>
<path d="M30.5 502.0 L30.1 504.6 L30.3 507.1 L31.0 509.6 L32.3 511.9 L34.2 514.2 L36.6 516.4 L39.6 518.4 L43.1 520.4 L47.1 522.2 L51.6 523.9 L56.7 525.5 L62.2 527.0 L68.1 528.3 L74.5 529.4 L81.3 530.4 L88.5 531.2 L96.1 531.9 L104.0 532.4 L112.2 532.8 L120.6 533.0 L129.3 533.0 L138.3 532.9 L147.4 532.6 L156.6 532.1 L166.0 531.5 L175.5 530.7 L185.0 529.7 L194.5 528.6 L204.0 527.4 L213.4 526.0 L222.8 524.5 L232.0 522.8 L241.1 521.0 L250.0 519.1 L258.7 517.1 L267.1 514.9 L275.3 512.7 L283.1 510.3 L290.6 507.9 L297.7 505.4 L304.5 502.9 L310.8 500.2 L316.7 497.6 L322.1 494.9 L327.1 492.2 L331.5 489.4 L335.5 486.7 L338.9 483.9 L341.8 481.2 L344.1 478.4 L345.9 475.7 L347.1 473.1 L347.8 470.5 L347.9 467.9 L347.4 465.5 L346.3 463.1 L344.7 460.8 L342.5 458.5 L339.8 456.4 L336.5 454.4"/>
<path d="M62 548 Q80 560 120 566"/>
</g>
<path d="M100 463 A62 62 0 0 1 224 463 A62 24 0 0 1 100 463 Z" fill="#fefefe" stroke="#666" stroke-width="0.6"/>
<clipPath id="globeclip"><path d="M100 463 A62 62 0 0 1 224 463 A62 24 0 0 1 100 463 Z"/></clipPath>
<g clip-path="url(#globeclip)">
<path d="M110.0 425.0 C107.8 427.8 104.2 435.0 103.0 440.0 C101.8 445.0 101.8 450.5 103.0 455.0 C104.2 459.5 106.8 463.3 110.0 467.0 C113.2 470.7 117.8 474.3 122.0 477.0 C126.2 479.7 130.3 481.8 135.0 483.0 C139.7 484.2 145.0 484.7 150.0 484.0 C155.0 483.3 159.7 480.3 165.0 479.0 C170.3 477.7 178.5 478.0 182.0 476.0 C185.5 474.0 187.7 469.3 186.0 467.0 C184.3 464.7 177.7 462.8 172.0 462.0 C166.3 461.2 157.7 462.0 152.0 462.0 C146.3 462.0 142.5 463.0 138.0 462.0 C133.5 461.0 128.5 458.5 125.0 456.0 C121.5 453.5 118.8 450.5 117.0 447.0 C115.2 443.5 114.2 439.0 114.0 435.0 C113.8 431.0 116.7 424.7 116.0 423.0 C115.3 421.3 112.2 422.2 110.0 425.0 Z" fill="#f4a4a4" stroke="#555" stroke-width="0.45"/>
<path d="M108.0 440.0 C106.3 439.5 106.7 450.7 108.0 455.0 C109.3 459.3 112.3 462.8 116.0 466.0 C119.7 469.2 125.2 472.0 130.0 474.0 C134.8 476.0 140.0 477.8 145.0 478.0 C150.0 478.2 159.2 476.3 160.0 475.0 C160.8 473.7 154.7 471.2 150.0 470.0 C145.3 468.8 137.3 470.0 132.0 468.0 C126.7 466.0 122.0 462.7 118.0 458.0 C114.0 453.3 109.7 440.5 108.0 440.0 Z" fill="#f8c8c8"/>
<path d="M121.0 415.0 C119.5 416.7 115.7 422.2 114.0 426.0 C112.3 429.8 110.8 434.0 111.0 438.0 C111.2 442.0 112.8 446.7 115.0 450.0 C117.2 453.3 121.0 455.8 124.0 458.0 C127.0 460.2 130.7 461.0 133.0 463.0 C135.3 465.0 135.8 469.2 138.0 470.0 C140.2 470.8 144.7 469.3 146.0 468.0 C147.3 466.7 147.0 463.8 146.0 462.0 C145.0 460.2 142.7 458.5 140.0 457.0 C137.3 455.5 133.0 454.8 130.0 453.0 C127.0 451.2 124.0 448.8 122.0 446.0 C120.0 443.2 118.5 439.5 118.0 436.0 C117.5 432.5 118.2 428.3 119.0 425.0 C119.8 421.7 122.7 417.7 123.0 416.0 C123.3 414.3 122.5 413.3 121.0 415.0 Z" fill="#2040f8" stroke="#444" stroke-width="0.45"/>
<path d="M126.0 456.0 C126.5 455.5 131.7 458.0 134.0 459.0 C136.3 460.0 139.3 460.8 140.0 462.0 C140.7 463.2 139.5 466.0 138.0 466.0 C136.5 466.0 133.0 463.7 131.0 462.0 C129.0 460.3 125.5 456.5 126.0 456.0 Z" fill="#0010e0"/>
<path d="M140.0 456.0 C140.3 454.7 146.5 452.8 150.0 452.0 C153.5 451.2 158.0 450.5 161.0 451.0 C164.0 451.5 167.8 453.5 168.0 455.0 C168.2 456.5 165.3 459.2 162.0 460.0 C158.7 460.8 151.7 460.7 148.0 460.0 C144.3 459.3 139.7 457.3 140.0 456.0 Z" fill="#a0a8f4" stroke="#666" stroke-width="0.35"/>
<path d="M145.0 466.0 C145.7 464.5 149.0 464.0 151.0 464.0 C153.0 464.0 156.3 464.5 157.0 466.0 C157.7 467.5 156.7 471.8 155.0 473.0 C153.3 474.2 148.7 474.2 147.0 473.0 C145.3 471.8 144.3 467.5 145.0 466.0 Z" fill="#ff1010"/>
<path d="M153.0 474.0 C154.3 472.7 160.0 472.2 162.0 473.0 C164.0 473.8 165.7 477.3 165.0 479.0 C164.3 480.7 159.8 482.7 158.0 483.0 C156.2 483.3 154.8 482.5 154.0 481.0 C153.2 479.5 151.7 475.3 153.0 474.0 Z" fill="#a8b0f4" stroke="#666" stroke-width="0.35"/>
<path d="M151.0 401.5 C153.0 400.7 162.5 400.4 165.0 401.0 C167.5 401.6 168.0 404.2 166.0 405.0 C164.0 405.8 155.5 406.6 153.0 406.0 C150.5 405.4 149.0 402.3 151.0 401.5 Z" fill="#aab2f4" stroke="#666" stroke-width="0.4"/>
<path d="M174.0 404.5 C176.5 404.1 186.2 405.1 190.0 406.0 C193.8 406.9 197.3 409.2 197.0 410.0 C196.7 410.8 191.7 411.2 188.0 411.0 C184.3 410.8 177.3 409.6 175.0 408.5 C172.7 407.4 171.5 404.9 174.0 404.5 Z" fill="#aab2f4" stroke="#666" stroke-width="0.4"/>
<path d="M212.0 423.0 C212.3 422.0 217.1 427.3 219.0 431.0 C220.9 434.7 223.3 441.0 223.5 445.0 C223.7 449.0 221.2 454.0 220.0 455.0 C218.8 456.0 216.5 454.0 216.0 451.0 C215.5 448.0 217.7 441.7 217.0 437.0 C216.3 432.3 211.7 424.0 212.0 423.0 Z" fill="#aab2f4" stroke="#666" stroke-width="0.4"/>
<path d="M207.0 425.0 C207.5 424.0 210.0 428.3 211.0 431.0 C212.0 433.7 213.3 438.3 213.0 441.0 C212.7 443.7 209.8 447.7 209.0 447.0 C208.2 446.3 208.3 440.7 208.0 437.0 C207.7 433.3 206.5 426.0 207.0 425.0 Z" fill="#f4a6a6" stroke="#666" stroke-width="0.4"/>
<g fill="none" stroke="#777" stroke-width="0.45">
<ellipse cx="162" cy="463" rx="60" ry="22"/><ellipse cx="162" cy="446" rx="56" ry="19"/><ellipse cx="162" cy="430" rx="47" ry="15"/><ellipse cx="162" cy="415" rx="32" ry="9"/>
<path d="M162 401 Q128 420 118 478"/><path d="M162 401 Q150 440 160 488"/><path d="M162 401 Q196 425 202 484"/><path d="M162 401 Q218 420 224 462"/><path d="M162 401 Q110 430 102 470"/>
</g>
</g>
<path d="M100 463 A62 62 0 0 1 224 463" fill="none" stroke="#555" stroke-width="0.6"/>
<path d="M136 468 C131 480 125.5 490 125 500 L125 523" fill="none" stroke="url(#btube)" stroke-width="4"/>
<path d="M150.5 472 L150.5 516" fill="none" stroke="url(#rtube)" stroke-width="3.4"/>
<path d="M125.9 533 L125.9 524.4 Q125 519.5 117.5 518.8" fill="none" stroke="#111" stroke-width="4.6" stroke-linecap="butt"/><path d="M125.9 533 L125.9 524.4 Q125 519.5 117.5 518.8" fill="none" stroke="#fff" stroke-width="2.6" stroke-linecap="butt"/><path d="M116.8 513.6 L110.3 517.6 L116.8 524.0 Z" fill="#fff" stroke="#111" stroke-width="0.9" stroke-linejoin="miter"/>
<path d="M133.8 524 L133.8 513.5" fill="none" stroke="#111" stroke-width="4.6" stroke-linecap="butt"/><path d="M133.8 524 L133.8 513.5" fill="none" stroke="#fff" stroke-width="2.6" stroke-linecap="butt"/><path d="M128.5 514.0 L133.6 508.0 L139.2 513.4 Z" fill="#fff" stroke="#111" stroke-width="0.9" stroke-linejoin="miter"/>
<path d="M144.8 522 Q142.5 511 149.5 507.5" fill="none" stroke="#111" stroke-width="4.6" stroke-linecap="butt"/><path d="M144.8 522 Q142.5 511 149.5 507.5" fill="none" stroke="#fff" stroke-width="2.6" stroke-linecap="butt"/><path d="M150.2 502.0 L155.6 504.8 L153.9 510.6 Z" fill="#fff" stroke="#111" stroke-width="0.9" stroke-linejoin="miter"/>
<path d="M98.0 546.0 C105.0 545.2 124.7 542.7 140.0 541.0 C155.3 539.3 177.5 537.8 190.0 536.0 C202.5 534.2 208.7 531.8 215.0 530.0 C221.3 528.2 222.7 525.8 228.0 525.5 C233.3 525.2 241.7 525.2 247.0 528.0 C252.3 530.8 255.3 536.7 260.0 542.0 C264.7 547.3 270.7 556.0 275.0 560.0 C279.3 564.0 280.7 563.7 286.0 566.0 C291.3 568.3 303.5 572.7 307.0 574.0" fill="none" stroke="#e81010" stroke-width="1.25"/>
<path d="M334.0 454.0 C331.7 454.3 323.7 454.0 320.0 456.0 C316.3 458.0 313.5 462.7 312.0 466.0 C310.5 469.3 310.3 473.5 311.0 476.0 C311.7 478.5 312.5 479.8 316.0 481.0 C319.5 482.2 327.2 482.2 332.0 483.0 C336.8 483.8 338.0 484.8 345.0 486.0 C352.0 487.2 369.2 489.3 374.0 490.0" fill="none" stroke="#e81010" stroke-width="1.25"/>
<path d="M338.0 454.0 C342.7 454.7 361.3 457.3 366.0 458.0" fill="none" stroke="#e81010" stroke-width="1.25"/>
<path d="M384.0 456.0 C386.3 456.7 396.7 459.0 398.0 460.0 C399.3 461.0 393.0 461.7 392.0 462.0" fill="none" stroke="#e81010" stroke-width="1.25"/>
<path d="M384.0 484.0 C385.0 483.0 385.7 479.0 390.0 478.0 C394.3 477.0 404.0 477.7 410.0 478.0 C416.0 478.3 421.0 479.3 426.0 480.0 C431.0 480.7 436.3 480.8 440.0 482.0 C443.7 483.2 446.7 486.2 448.0 487.0" fill="none" stroke="#e81010" stroke-width="1.25"/>
<path d="M226.0 525.0 C228.3 525.8 234.8 527.5 240.0 530.0 C245.2 532.5 254.2 538.3 257.0 540.0" fill="none" stroke="#e81010" stroke-width="1.25"/>
<path d="M86.0 558.0 L100.0 554.0 L117.0 547.0 L125.0 549.0 L134.0 552.0 L150.0 554.0 L165.0 558.0 L178.0 557.0 L188.0 550.0 L197.0 540.0 L205.0 533.0 L221.0 526.0 L231.0 516.0 L239.0 512.0" fill="none" stroke="#222" stroke-width="5.3" stroke-linecap="round" stroke-linejoin="round"/><path d="M86.0 558.0 L100.0 554.0 L117.0 547.0 L125.0 549.0 L134.0 552.0 L150.0 554.0" fill="none" stroke="#d8d020" stroke-width="4.0" stroke-linecap="round" stroke-linejoin="round"/><path d="M150.0 554.0 L165.0 558.0" fill="none" stroke="#d8d020" stroke-width="4.0" stroke-linecap="round" stroke-linejoin="round"/><path d="M165.0 558.0 L178.0 557.0" fill="none" stroke="#d07018" stroke-width="4.0" stroke-linecap="round" stroke-linejoin="round"/><path d="M178.0 557.0 L188.0 550.0 L197.0 540.0 L205.0 533.0 L221.0 526.0 L231.0 516.0 L239.0 512.0" fill="none" stroke="#d8d020" stroke-width="4.0" stroke-linecap="round" stroke-linejoin="round"/><path d="M86.0 558.0 L100.0 554.0 L117.0 547.0 L125.0 549.0 L134.0 552.0 L150.0 554.0 L165.0 558.0 L178.0 557.0 L188.0 550.0 L197.0 540.0 L205.0 533.0 L221.0 526.0 L231.0 516.0 L239.0 512.0" fill="none" stroke="#000" stroke-opacity="0.35" stroke-width="4.0" stroke-dasharray="0.7 2.6"/>
<path d="M86 551 L120 541 L125 551 L90 561 Z" fill="#f2ec20" stroke="#333" stroke-width="0.8"/>
<circle cx="86" cy="559" r="3.2" fill="#e05010" stroke="#333" stroke-width="0.6"/>
<path d="M239.0 512.0 L250.0 515.0 L262.0 519.0 L270.0 524.0 L273.0 534.0 L277.0 548.0 L281.0 562.0 L285.0 576.0 L288.0 586.0" fill="none" stroke="#222" stroke-width="5.3" stroke-linecap="round" stroke-linejoin="round"/><path d="M239.0 512.0 L250.0 515.0 L262.0 519.0" fill="none" stroke="#c04018" stroke-width="4.0" stroke-linecap="round" stroke-linejoin="round"/><path d="M262.0 519.0 L270.0 524.0" fill="none" stroke="#2040a0" stroke-width="4.0" stroke-linecap="round" stroke-linejoin="round"/><path d="M270.0 524.0 L273.0 534.0 L277.0 548.0 L281.0 562.0 L285.0 576.0 L288.0 586.0" fill="none" stroke="#30b0c0" stroke-width="4.0" stroke-linecap="round" stroke-linejoin="round"/><path d="M239.0 512.0 L250.0 515.0 L262.0 519.0 L270.0 524.0 L273.0 534.0 L277.0 548.0 L281.0 562.0 L285.0 576.0 L288.0 586.0" fill="none" stroke="#000" stroke-opacity="0.35" stroke-width="4.0" stroke-dasharray="0.7 2.6"/>
<path d="M240.0 501.0 L252.0 498.0 L264.0 494.0 L276.0 489.0 L281.0 484.0 L282.0 478.0 L288.0 475.0 L300.0 472.0 L308.0 468.0 L312.0 462.0 L314.0 454.0 L318.0 450.0 L322.0 447.0" fill="none" stroke="#222" stroke-width="5.3" stroke-linecap="round" stroke-linejoin="round"/><path d="M240.0 501.0 L252.0 498.0 L264.0 494.0 L276.0 489.0 L281.0 484.0 L282.0 478.0 L288.0 475.0 L300.0 472.0 L308.0 468.0 L312.0 462.0 L314.0 454.0 L318.0 450.0 L322.0 447.0" fill="none" stroke="#c8c020" stroke-width="4.0" stroke-linecap="round" stroke-linejoin="round"/><path d="M240.0 501.0 L252.0 498.0 L264.0 494.0 L276.0 489.0 L281.0 484.0 L282.0 478.0 L288.0 475.0 L300.0 472.0 L308.0 468.0 L312.0 462.0 L314.0 454.0 L318.0 450.0 L322.0 447.0" fill="none" stroke="#000" stroke-opacity="0.35" stroke-width="4.0" stroke-dasharray="0.7 2.6"/>
<path d="M298 450 L300 442 L320 436 L325 441 L306 453 Z" fill="#eee820" stroke="#333" stroke-width="0.8"/>
<path d="M318 438 L330 436 L333 441 L322 449 Z" fill="#28c8d8" stroke="#333" stroke-width="0.6"/>
<path d="M248.0 505.0 L260.0 505.6 L272.0 504.0 L280.0 499.0 L286.0 495.0 L294.0 494.0 L300.0 496.0 L306.0 500.0 L318.0 505.0 L330.0 511.0 L340.0 516.0" fill="none" stroke="#222" stroke-width="4.9" stroke-linecap="round" stroke-linejoin="round"/><path d="M248.0 505.0 L260.0 505.6 L272.0 504.0 L280.0 499.0 L286.0 495.0 L294.0 494.0" fill="none" stroke="#30b8c8" stroke-width="3.6" stroke-linecap="round" stroke-linejoin="round"/><path d="M294.0 494.0 L300.0 496.0" fill="none" stroke="#2838a8" stroke-width="3.6" stroke-linecap="round" stroke-linejoin="round"/><path d="M300.0 496.0 L306.0 500.0 L318.0 505.0" fill="none" stroke="#8a1010" stroke-width="3.6" stroke-linecap="round" stroke-linejoin="round"/><path d="M318.0 505.0 L330.0 511.0" fill="none" stroke="#2838a8" stroke-width="3.6" stroke-linecap="round" stroke-linejoin="round"/><path d="M330.0 511.0 L340.0 516.0" fill="none" stroke="#8a1010" stroke-width="3.6" stroke-linecap="round" stroke-linejoin="round"/><path d="M248.0 505.0 L260.0 505.6 L272.0 504.0 L280.0 499.0 L286.0 495.0 L294.0 494.0 L300.0 496.0 L306.0 500.0 L318.0 505.0 L330.0 511.0 L340.0 516.0" fill="none" stroke="#000" stroke-opacity="0.35" stroke-width="3.6" stroke-dasharray="0.7 2.6"/>
<path d="M330.0 445.0 L342.0 447.0 L354.0 451.0 L366.0 454.0 L374.0 455.0 L378.0 458.0 L379.0 462.0 L376.0 468.0 L370.0 474.0 L364.0 480.0 L356.0 485.0 L350.0 487.0 L342.0 486.0 L334.0 483.0 L324.0 483.0 L312.0 486.0" fill="none" stroke="#222" stroke-width="5.3" stroke-linecap="round" stroke-linejoin="round"/><path d="M330.0 445.0 L342.0 447.0 L354.0 451.0 L366.0 454.0" fill="none" stroke="#1a2aa0" stroke-width="4.0" stroke-linecap="round" stroke-linejoin="round"/><path d="M366.0 454.0 L374.0 455.0" fill="none" stroke="#7a1010" stroke-width="4.0" stroke-linecap="round" stroke-linejoin="round"/><path d="M374.0 455.0 L378.0 458.0 L379.0 462.0" fill="none" stroke="#1a2aa0" stroke-width="4.0" stroke-linecap="round" stroke-linejoin="round"/><path d="M379.0 462.0 L376.0 468.0 L370.0 474.0 L364.0 480.0 L356.0 485.0 L350.0 487.0 L342.0 486.0 L334.0 483.0 L324.0 483.0 L312.0 486.0" fill="none" stroke="#30a8b8" stroke-width="4.0" stroke-linecap="round" stroke-linejoin="round"/><path d="M330.0 445.0 L342.0 447.0 L354.0 451.0 L366.0 454.0 L374.0 455.0 L378.0 458.0 L379.0 462.0 L376.0 468.0 L370.0 474.0 L364.0 480.0 L356.0 485.0 L350.0 487.0 L342.0 486.0 L334.0 483.0 L324.0 483.0 L312.0 486.0" fill="none" stroke="#000" stroke-opacity="0.35" stroke-width="4.0" stroke-dasharray="0.7 2.6"/>
<path d="M379.0 462.0 L388.0 464.0 L398.0 466.0 L410.0 467.0 L418.0 469.0 L422.0 472.0 L420.0 476.0 L414.0 480.0 L410.0 482.0 L416.0 485.0 L426.0 488.0 L432.0 491.0 L438.0 494.0 L431.0 496.0" fill="none" stroke="#222" stroke-width="5.3" stroke-linecap="round" stroke-linejoin="round"/><path d="M379.0 462.0 L388.0 464.0" fill="none" stroke="#1a2aa0" stroke-width="4.0" stroke-linecap="round" stroke-linejoin="round"/><path d="M388.0 464.0 L398.0 466.0 L410.0 467.0 L418.0 469.0" fill="none" stroke="#7a1010" stroke-width="4.0" stroke-linecap="round" stroke-linejoin="round"/><path d="M418.0 469.0 L422.0 472.0 L420.0 476.0 L414.0 480.0 L410.0 482.0 L416.0 485.0 L426.0 488.0 L432.0 491.0 L438.0 494.0 L431.0 496.0" fill="none" stroke="#1a2aa0" stroke-width="4.0" stroke-linecap="round" stroke-linejoin="round"/><path d="M379.0 462.0 L388.0 464.0 L398.0 466.0 L410.0 467.0 L418.0 469.0 L422.0 472.0 L420.0 476.0 L414.0 480.0 L410.0 482.0 L416.0 485.0 L426.0 488.0 L432.0 491.0 L438.0 494.0 L431.0 496.0" fill="none" stroke="#000" stroke-opacity="0.35" stroke-width="4.0" stroke-dasharray="0.7 2.6"/>
<path d="M366.0 484.0 L380.0 490.0 L390.0 493.0 L402.0 496.0 L414.0 499.0 L424.0 501.0 L429.0 502.0" fill="none" stroke="#222" stroke-width="3.8" stroke-linecap="round" stroke-linejoin="round"/><path d="M366.0 484.0 L380.0 490.0 L390.0 493.0" fill="none" stroke="#1a2aa0" stroke-width="2.5" stroke-linecap="round" stroke-linejoin="round"/><path d="M390.0 493.0 L402.0 496.0" fill="none" stroke="#7a1010" stroke-width="2.5" stroke-linecap="round" stroke-linejoin="round"/><path d="M402.0 496.0 L414.0 499.0 L424.0 501.0 L429.0 502.0" fill="none" stroke="#1a2aa0" stroke-width="2.5" stroke-linecap="round" stroke-linejoin="round"/><path d="M366.0 484.0 L380.0 490.0 L390.0 493.0 L402.0 496.0 L414.0 499.0 L424.0 501.0 L429.0 502.0" fill="none" stroke="#000" stroke-opacity="0.35" stroke-width="2.5" stroke-dasharray="0.7 2.6"/>
<path d="M312.0 486.0 L320.0 490.0 L332.0 498.0 L340.0 500.0 L350.0 506.0 L360.0 514.0 L366.0 520.0 L370.0 526.0" fill="none" stroke="#222" stroke-width="5.3" stroke-linecap="round" stroke-linejoin="round"/><path d="M312.0 486.0 L320.0 490.0 L332.0 498.0 L340.0 500.0 L350.0 506.0 L360.0 514.0 L366.0 520.0 L370.0 526.0" fill="none" stroke="#1a2aa0" stroke-width="4.0" stroke-linecap="round" stroke-linejoin="round"/><path d="M312.0 486.0 L320.0 490.0 L332.0 498.0 L340.0 500.0 L350.0 506.0 L360.0 514.0 L366.0 520.0 L370.0 526.0" fill="none" stroke="#000" stroke-opacity="0.35" stroke-width="4.0" stroke-dasharray="0.7 2.6"/>
<path d="M330.0 510.0 L344.0 518.0 L358.0 523.0 L368.0 526.0" fill="none" stroke="#222" stroke-width="4.9" stroke-linecap="round" stroke-linejoin="round"/><path d="M330.0 510.0 L344.0 518.0 L358.0 523.0 L368.0 526.0" fill="none" stroke="#7a1010" stroke-width="3.6" stroke-linecap="round" stroke-linejoin="round"/><path d="M330.0 510.0 L344.0 518.0 L358.0 523.0 L368.0 526.0" fill="none" stroke="#000" stroke-opacity="0.35" stroke-width="3.6" stroke-dasharray="0.7 2.6"/>
<path d="M367.0 484.0 L372.0 476.0 L378.0 468.0" fill="none" stroke="#222" stroke-width="4.5" stroke-linecap="round" stroke-linejoin="round"/><path d="M367.0 484.0 L372.0 476.0 L378.0 468.0" fill="none" stroke="#c8b820" stroke-width="3.2" stroke-linecap="round" stroke-linejoin="round"/><path d="M367.0 484.0 L372.0 476.0 L378.0 468.0" fill="none" stroke="#000" stroke-opacity="0.35" stroke-width="3.2" stroke-dasharray="0.7 2.6"/>
<path d="M88.0 563.0 L94.0 569.0 L100.0 575.0" fill="none" stroke="#222" stroke-width="4.2" stroke-linecap="round" stroke-linejoin="round"/><path d="M88.0 563.0 L94.0 569.0 L100.0 575.0" fill="none" stroke="#2a70c0" stroke-width="2.9" stroke-linecap="round" stroke-linejoin="round"/><path d="M88.0 563.0 L94.0 569.0 L100.0 575.0" fill="none" stroke="#000" stroke-opacity="0.35" stroke-width="2.9" stroke-dasharray="0.7 2.6"/>
<path d="M17.5 538.8 L178 654 M183 660.5 L270 605 L380 539.5 L488 481 M17.5 538.8 L30 533.5 M178 654 L184 660.5" fill="none" stroke="#666" stroke-width="0.7"/>
<path d="M18.3 537.7 L16.7 539.9M22.3 540.5 L20.7 542.8M26.3 543.4 L24.7 545.7M30.4 546.3 L28.7 548.6M34.4 549.2 L32.7 551.5M38.4 552.1 L36.7 554.3M42.4 554.9 L40.8 557.2M46.4 557.8 L44.8 560.1M50.4 560.7 L48.8 563.0M54.4 563.6 L52.8 565.9M58.4 566.5 L56.8 568.7M62.5 569.3 L60.8 571.6M66.5 572.2 L64.8 574.5M70.5 575.1 L68.8 577.4M74.5 578.0 L72.9 580.3M78.5 580.9 L76.9 583.1M82.5 583.7 L80.9 586.0M86.5 586.6 L84.9 588.9M90.5 589.5 L88.9 591.8M94.6 592.4 L92.9 594.7M98.6 595.3 L96.9 597.5M102.6 598.1 L100.9 600.4M106.6 601.0 L105.0 603.3M110.6 603.9 L109.0 606.2M114.6 606.8 L113.0 609.1M118.6 609.7 L117.0 611.9M122.6 612.5 L121.0 614.8M126.7 615.4 L125.0 617.7M130.7 618.3 L129.0 620.6M134.7 621.2 L133.0 623.5M138.7 624.1 L137.1 626.3M142.7 626.9 L141.1 629.2M146.7 629.8 L145.1 632.1M150.7 632.7 L149.1 635.0M154.7 635.6 L153.1 637.9M158.8 638.5 L157.1 640.7M162.8 641.3 L161.1 643.6M166.8 644.2 L165.1 646.5M170.8 647.1 L169.2 649.4M174.8 650.0 L173.2 652.3M178.8 652.9 L177.2 655.1M182.2 659.3 L183.8 661.7M187.7 655.9 L189.2 658.2M193.1 652.4 L194.6 654.7M198.6 648.9 L200.1 651.3M204.0 645.4 L205.5 647.8M209.4 642.0 L210.9 644.3M214.9 638.5 L216.4 640.9M220.3 635.0 L221.8 637.4M225.7 631.6 L227.3 633.9M231.2 628.1 L232.7 630.5M236.6 624.6 L238.1 627.0M242.1 621.2 L243.6 623.5M247.5 617.7 L249.0 620.1M252.9 614.2 L254.4 616.6M258.4 610.8 L259.9 613.1M263.8 607.3 L265.3 609.6M269.2 603.8 L270.8 606.2M269.3 603.8 L270.7 606.2M274.8 600.5 L276.2 602.9M280.3 597.2 L281.7 599.7M285.8 594.0 L287.2 596.4M291.3 590.7 L292.7 593.1M296.8 587.4 L298.2 589.8M302.3 584.1 L303.7 586.6M307.8 580.9 L309.2 583.3M313.3 577.6 L314.7 580.0M318.8 574.3 L320.2 576.7M324.3 571.0 L325.7 573.5M329.8 567.8 L331.2 570.2M335.3 564.5 L336.7 566.9M340.8 561.2 L342.2 563.6M346.3 557.9 L347.7 560.4M351.8 554.7 L353.2 557.1M357.3 551.4 L358.7 553.8M362.8 548.1 L364.2 550.5M368.3 544.8 L369.7 547.3M373.8 541.6 L375.2 544.0M379.3 538.3 L380.7 540.7M379.3 538.3 L380.7 540.7M384.7 535.3 L386.1 537.8M390.1 532.4 L391.5 534.9M395.5 529.5 L396.9 532.0M400.9 526.6 L402.3 529.0M406.3 523.6 L407.7 526.1M411.7 520.7 L413.1 523.2M417.1 517.8 L418.5 520.3M422.5 514.9 L423.9 517.3M427.9 511.9 L429.3 514.4M433.3 509.0 L434.7 511.5M438.7 506.1 L440.1 508.6M444.1 503.2 L445.5 505.6M449.5 500.2 L450.9 502.7M454.9 497.3 L456.3 499.8M460.3 494.4 L461.7 496.9M465.7 491.5 L467.1 493.9M471.1 488.5 L472.5 491.0M476.5 485.6 L477.9 488.1M481.9 482.7 L483.3 485.2M487.3 479.8 L488.7 482.2" fill="none" stroke="#666" stroke-width="0.5"/>
<text x="8.5" y="545.0" font-size="12" font-family='"Liberation Sans", sans-serif' fill="#111">0</text>
<text x="36.0" y="569.5" font-size="12" font-family='"Liberation Sans", sans-serif' fill="#111">&#8722;5</text>
<text x="66.0" y="598.0" font-size="12" font-family='"Liberation Sans", sans-serif' fill="#111">&#8722;10</text>
<text x="109.0" y="627.0" font-size="12" font-family='"Liberation Sans", sans-serif' fill="#111">&#8722;15</text>
<text x="151.0" y="664.0" font-size="12" font-family='"Liberation Sans", sans-serif' fill="#111">&#8722;20</text>
<text x="229.5" y="640.0" font-size="12" font-family='"Liberation Sans", sans-serif' fill="#111">10</text>
<text x="296.0" y="600.0" font-size="12" font-family='"Liberation Sans", sans-serif' fill="#111">5</text>
<text x="356.0" y="562.0" font-size="12" font-family='"Liberation Sans", sans-serif' fill="#111">0</text>
<text x="409.0" y="529.0" font-size="12" font-family='"Liberation Sans", sans-serif' fill="#111">&#8722;5</text>
<text x="457.0" y="499.0" font-size="12" font-family='"Liberation Sans", sans-serif' fill="#111">&#8722;10</text>
<text x="21.5" y="419.5" font-size="20.5" font-family='"Liberation Serif", serif' fill="#000" textLength="24" lengthAdjust="spacingAndGlyphs">(e)</text>
<text transform="translate(336.5 426.5) rotate(16)" font-size="14.2" font-style="italic" font-family='"Liberation Serif", serif' fill="#111" textLength="36" lengthAdjust="spacingAndGlyphs">t=550 s</text>
<text transform="translate(423 449.5) rotate(18)" font-size="14.5" font-family='"Liberation Serif", serif' fill="#111"><tspan font-style="italic">X</tspan>[<tspan font-style="italic">R</tspan><tspan font-size="8" dy="2">E</tspan><tspan dy="-2">]</tspan></text>
<text transform="translate(389 557) rotate(-30)" font-size="14" font-family='"Liberation Serif", serif' fill="#111"><tspan font-style="italic">Y</tspan>[<tspan font-style="italic">R</tspan><tspan font-size="8" dy="2">E</tspan><tspan dy="-2">]</tspan></text>
<text transform="translate(298 572) rotate(-30)" font-size="14.5" font-family='"Liberation Serif", serif' fill="#e01010" font-style="italic" font-weight="bold">V<tspan font-size="8" dy="2">x</tspan><tspan dy="-2">=0</tspan></text>
<text transform="translate(107 494) rotate(-18)" font-size="8.5" font-family='"Liberation Serif", serif' fill="#222">5R<tspan font-size="5" dy="1.5">E</tspan></text>
<text transform="translate(75 509) rotate(-18)" font-size="8.5" font-family='"Liberation Serif", serif' fill="#222">8R<tspan font-size="5" dy="1.5">E</tspan></text>
<text transform="translate(40 526) rotate(-26)" font-size="8.5" font-family='"Liberation Serif", serif' fill="#222">11R<tspan font-size="5" dy="1.5">E</tspan></text>
<text transform="translate(70 567) rotate(-78)" font-size="8.5" font-family='"Liberation Serif", serif' fill="#222">14R<tspan font-size="5" dy="1.5">E</tspan></text>
<text x="240" y="399.5" font-size="4.6" font-family='"Liberation Sans", sans-serif' fill="#d040e0">V<tspan font-size="3" dy="1">x</tspan><tspan dy="-1">=400km/s</tspan></text>
<path d="M242 403 L270 403" stroke="#e050f0" stroke-width="1.2"/>
<text x="277" y="399" font-size="4.6" font-family='"Liberation Sans", sans-serif' fill="#000">v<tspan font-size="3" dy="1">ex</tspan></text>
<path d="M275 403 L286 403" stroke="#000" stroke-width="0.8"/><path d="M285 401.2 L289 403 L285 404.8 Z" fill="#000"/>
<rect x="61.5" y="415.5" width="6.5" height="56.5" fill="url(#facg)"/>
<text x="69" y="418.6" font-size="7.8" font-family='"Liberation Serif", serif' fill="#111">0.5</text>
<text x="69" y="429.9" font-size="7.8" font-family='"Liberation Serif", serif' fill="#111">0.3</text>
<text x="69" y="441.2" font-size="7.8" font-family='"Liberation Serif", serif' fill="#111">0.1</text>
<text x="69" y="452.5" font-size="7.8" font-family='"Liberation Serif", serif' fill="#111">&#8722;0.1</text>
<text x="69" y="463.8" font-size="7.8" font-family='"Liberation Serif", serif' fill="#111">&#8722;0.3</text>
<text x="69" y="475.1" font-size="7.8" font-family='"Liberation Serif", serif' fill="#111">&#8722;0.5</text>
<text transform="translate(95 466) rotate(-90)" font-size="8.2" font-family='"Liberation Serif", serif' fill="#111">FAC [&#956;A m<tspan font-size="5" dy="-2.5">&#8722;2</tspan><tspan dy="2.5">]</tspan></text>
<g transform="translate(35.6 594.4) rotate(33.2)"><rect x="0" y="0" width="83.2" height="10.7" fill="url(#vxg)"/></g>
<g font-family='"Liberation Serif", serif' fill="#111" font-size="8.8">
<text transform="translate(37 583) rotate(33)">&#8722;800</text><text transform="translate(55 594.5) rotate(33)">400</text><text transform="translate(75 609.5) rotate(33)">0</text>
<text transform="translate(87.5 620) rotate(33)">400</text><text transform="translate(105.5 631) rotate(33)">800</text>
<text transform="translate(38 616) rotate(33)" font-size="11.5" font-style="italic">V<tspan font-size="7" dy="2">x</tspan><tspan dy="-2" font-style="normal"> [km/s]</tspan></text>
</g>
<g transform="translate(292.8 625.2) rotate(-30.9)"><rect x="0" y="0" width="86.5" height="11.3" fill="url(#dbg)"/></g>
<g font-family='"Liberation Serif", serif' fill="#111">
<text transform="translate(289.5 620.5) rotate(-31)" font-size="9.2" font-weight="bold">dB<tspan font-size="6" dy="2">N</tspan><tspan dy="-2">/dL</tspan><tspan font-weight="normal">[10</tspan><tspan font-size="5.5" dy="-3.5" font-weight="normal">-8</tspan><tspan dy="3.5" font-weight="normal"> nT m</tspan><tspan font-size="5.5" dy="-3.5" font-weight="normal">-1</tspan><tspan dy="3.5" font-weight="normal">]</tspan></text>
<text transform="translate(308 627) rotate(-31)" font-size="12" fill="#fff">O</text><text transform="translate(347 604) rotate(-31)" font-size="12" fill="#fff">X</text>
<g font-size="6.5" font-weight="bold"><text transform="translate(301 647) rotate(-55)">-10</text><text transform="translate(322 636) rotate(-55)">-5</text><text transform="translate(342 621) rotate(-55)">0</text><text transform="translate(361 610) rotate(-55)">5</text><text transform="translate(379 599) rotate(-55)">10</text></g>
</g></svg>
</body></html>
